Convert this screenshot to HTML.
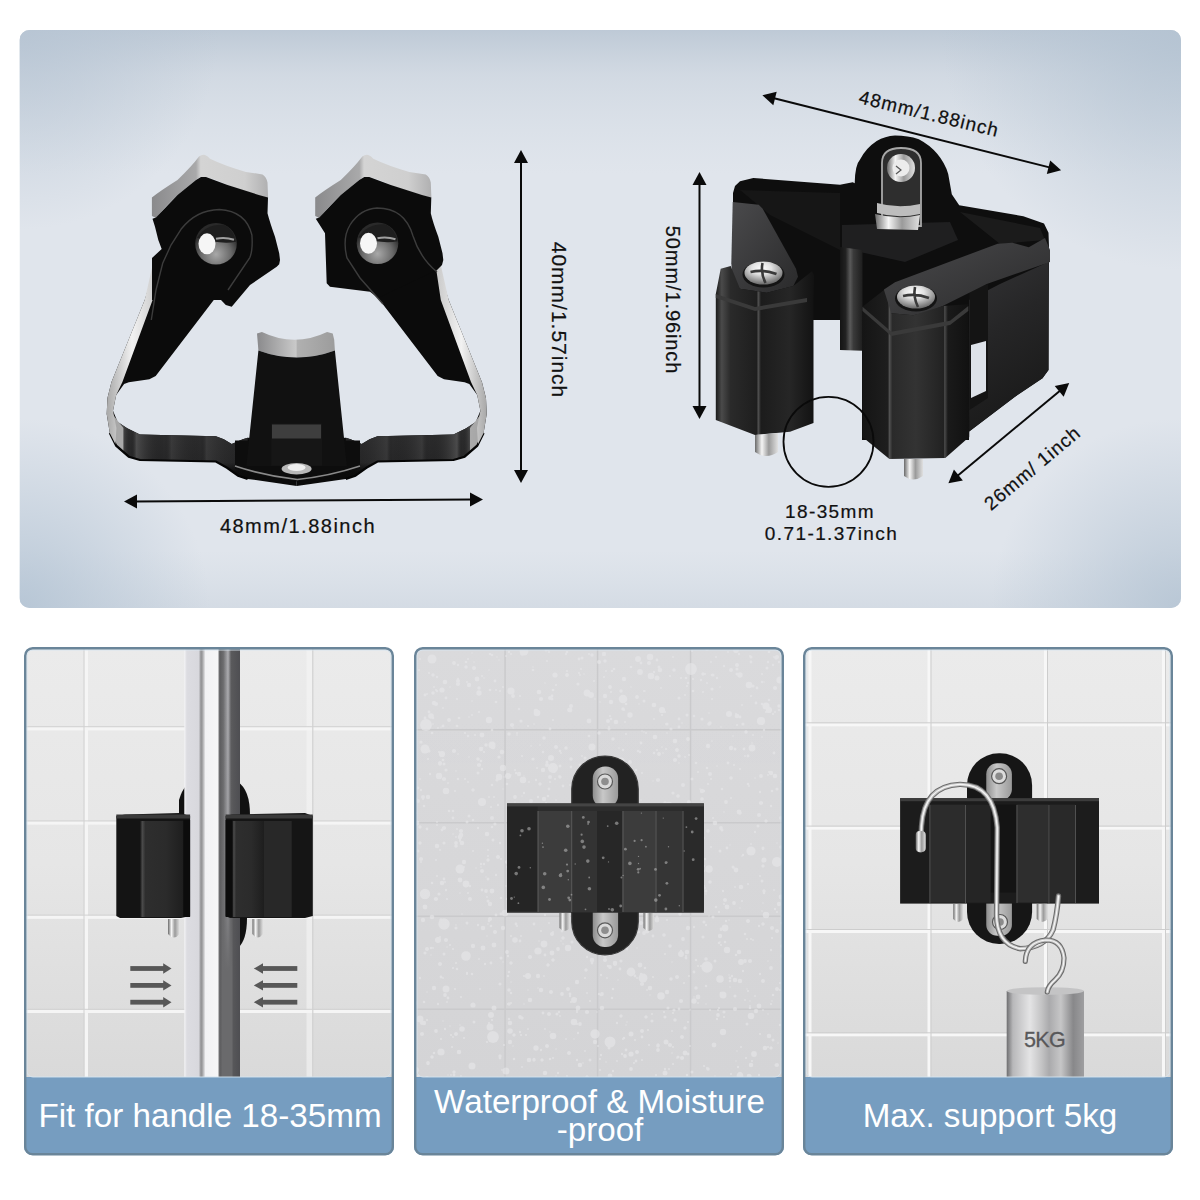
<!DOCTYPE html>
<html><head><meta charset="utf-8">
<style>
html,body{margin:0;padding:0;background:#fff;}
svg{display:block;}
text{font-family:"Liberation Sans",sans-serif;}
</style></head>
<body>
<svg width="1200" height="1200" viewBox="0 0 1200 1200">
<defs>
  <radialGradient id="topbg" cx="600" cy="330" r="640" gradientUnits="userSpaceOnUse" gradientTransform="translate(600 330) scale(1 0.62) translate(-600 -330)">
    <stop offset="0" stop-color="#e4e8ef"/>
    <stop offset="0.55" stop-color="#dde3ea"/>
    <stop offset="1" stop-color="#bccad7"/>
  </radialGradient>
  <linearGradient id="bgtop" gradientUnits="userSpaceOnUse" x1="0" y1="30" x2="0" y2="608">
    <stop offset="0" stop-color="#bcc8d5" stop-opacity="0.95"/>
    <stop offset="0.08" stop-color="#c6d0db" stop-opacity="0.55"/>
    <stop offset="0.25" stop-color="#d0d9e2" stop-opacity="0"/>
    <stop offset="0.9" stop-color="#d0d9e2" stop-opacity="0"/>
    <stop offset="1" stop-color="#ccd5df" stop-opacity="0.6"/>
  </linearGradient>
  <linearGradient id="bgside" gradientUnits="userSpaceOnUse" x1="19.5" y1="0" x2="1181" y2="0">
    <stop offset="0" stop-color="#c2cedb" stop-opacity="0.7"/>
    <stop offset="0.05" stop-color="#c2cedb" stop-opacity="0"/>
    <stop offset="0.88" stop-color="#c2cedb" stop-opacity="0"/>
    <stop offset="1" stop-color="#bccad7" stop-opacity="0.8"/>
  </linearGradient>
  <radialGradient id="cTL" gradientUnits="userSpaceOnUse" cx="19.5" cy="30" r="200">
    <stop offset="0" stop-color="#b6c4d3" stop-opacity="0.8"/>
    <stop offset="1" stop-color="#b6c4d3" stop-opacity="0"/>
  </radialGradient>
  <radialGradient id="cTR" gradientUnits="userSpaceOnUse" cx="1181" cy="30" r="240">
    <stop offset="0" stop-color="#b4c3d2" stop-opacity="0.9"/>
    <stop offset="1" stop-color="#b4c3d2" stop-opacity="0"/>
  </radialGradient>
  <radialGradient id="cBL" gradientUnits="userSpaceOnUse" cx="19.5" cy="608" r="190">
    <stop offset="0" stop-color="#b4c4d4" stop-opacity="0.9"/>
    <stop offset="1" stop-color="#b4c4d4" stop-opacity="0"/>
  </radialGradient>
  <radialGradient id="cBR" gradientUnits="userSpaceOnUse" cx="1181" cy="608" r="190">
    <stop offset="0" stop-color="#b6c5d4" stop-opacity="0.9"/>
    <stop offset="1" stop-color="#b6c5d4" stop-opacity="0"/>
  </radialGradient>
  <linearGradient id="pole" x1="0" x2="1" y1="0" y2="0">
    <stop offset="0" stop-color="#f4f4f6"/>
    <stop offset="0.045" stop-color="#dcdce1"/>
    <stop offset="0.26" stop-color="#d8d8dd"/>
    <stop offset="0.3" stop-color="#8e8e90"/>
    <stop offset="0.33" stop-color="#a8a8aa"/>
    <stop offset="0.38" stop-color="#f2f2f4"/>
    <stop offset="0.6" stop-color="#f6f6f7"/>
    <stop offset="0.635" stop-color="#5c5c5e"/>
    <stop offset="0.7" stop-color="#6c6c6e"/>
    <stop offset="0.785" stop-color="#aeaeb2"/>
    <stop offset="0.84" stop-color="#5a5a5c"/>
    <stop offset="1" stop-color="#4e4e52"/>
  </linearGradient>
  <linearGradient id="weight" x1="0" x2="1" y1="0" y2="0">
    <stop offset="0" stop-color="#6e6e70"/>
    <stop offset="0.08" stop-color="#b8b8ba"/>
    <stop offset="0.3" stop-color="#e4e4e5"/>
    <stop offset="0.45" stop-color="#c4c4c5"/>
    <stop offset="0.55" stop-color="#aaaaac"/>
    <stop offset="0.7" stop-color="#c6c6c7"/>
    <stop offset="0.86" stop-color="#88888a"/>
    <stop offset="1" stop-color="#9e9ea0"/>
  </linearGradient>
  <linearGradient id="poleshade" x1="0" x2="0" y1="0" y2="1">
    <stop offset="0" stop-color="#b0b0b2" stop-opacity="0"/>
    <stop offset="0.5" stop-color="#7a7a7c" stop-opacity="0.5"/>
    <stop offset="1" stop-color="#5e5e60" stop-opacity="0.85"/>
  </linearGradient>
  <linearGradient id="polefade" x1="0" x2="0" y1="0" y2="1">
    <stop offset="0" stop-color="#6a6a6c" stop-opacity="0"/>
    <stop offset="0.45" stop-color="#6a6a6c" stop-opacity="0.2"/>
    <stop offset="0.75" stop-color="#6a6a6c" stop-opacity="1"/>
    <stop offset="1" stop-color="#6a6a6c" stop-opacity="1"/>
  </linearGradient>
  <linearGradient id="clampface" x1="0" x2="1" y1="0" y2="0">
    <stop offset="0" stop-color="#1f1f1f"/>
    <stop offset="0.05" stop-color="#4a4a4a"/>
    <stop offset="0.12" stop-color="#2e2e2e"/>
    <stop offset="0.6" stop-color="#2b2b2b"/>
    <stop offset="1" stop-color="#1e1e1e"/>
  </linearGradient>
  <linearGradient id="strip" x1="0" x2="1" y1="0" y2="0">
    <stop offset="0" stop-color="#8e8e8e"/>
    <stop offset="0.4" stop-color="#c8c8c8"/>
    <stop offset="1" stop-color="#9a9a9a"/>
  </linearGradient>
  <linearGradient id="tileA" x1="0" x2="0" y1="0" y2="1">
    <stop offset="0" stop-color="#ebebeb"/>
    <stop offset="0.5" stop-color="#e6e6e6"/>
    <stop offset="1" stop-color="#d9d9d9"/>
  </linearGradient>
  <linearGradient id="tileB" x1="0" x2="0" y1="0" y2="1">
    <stop offset="0" stop-color="#dadadc"/>
    <stop offset="1" stop-color="#d4d4d6"/>
  </linearGradient>
  <clipPath id="cp1"><rect x="25" y="648" width="367" height="506" rx="7"/></clipPath>
  <clipPath id="cp2"><rect x="415" y="648" width="368" height="506" rx="7"/></clipPath>
  <clipPath id="cp3"><rect x="804" y="648" width="368" height="506" rx="7"/></clipPath>
</defs>

<!-- TOP PANEL -->
<clipPath id="cptop"><rect x="19.5" y="30" width="1161.5" height="578" rx="10"/></clipPath>
<g clip-path="url(#cptop)">
  <rect x="19.5" y="30" width="1161.5" height="578" fill="#e0e5ec"/>
  <rect x="19.5" y="30" width="1161.5" height="578" fill="url(#bgtop)"/>
  <rect x="19.5" y="30" width="1161.5" height="578" fill="url(#cTL)"/>
  <rect x="19.5" y="30" width="1161.5" height="578" fill="url(#cTR)"/>
  <rect x="19.5" y="30" width="1161.5" height="578" fill="url(#cBL)"/>
  <rect x="19.5" y="30" width="1161.5" height="578" fill="url(#cBR)"/>
</g>

<g id="leftprod">
  <defs>
    <linearGradient id="capgrey" x1="0" x2="1" y1="0" y2="0">
      <stop offset="0" stop-color="#8a8a8c"/>
      <stop offset="0.38" stop-color="#a9a9aa"/>
      <stop offset="0.42" stop-color="#d4d4d4"/>
      <stop offset="0.8" stop-color="#cfcfcf"/>
      <stop offset="1" stop-color="#b0b0b1"/>
    </linearGradient>
    <linearGradient id="postgrey" x1="0" x2="1" y1="0" y2="0">
      <stop offset="0" stop-color="#8a8a8c"/>
      <stop offset="0.5" stop-color="#c9c9c9"/>
      <stop offset="0.52" stop-color="#b0b0b0"/>
      <stop offset="1" stop-color="#9c9c9c"/>
    </linearGradient>
    <linearGradient id="band" x1="0" x2="0" y1="0" y2="1">
      <stop offset="0" stop-color="#505052"/>
      <stop offset="0.15" stop-color="#2e2e2f"/>
      <stop offset="0.75" stop-color="#262627"/>
      <stop offset="0.88" stop-color="#0c0c0c"/>
      <stop offset="1" stop-color="#0a0a0a"/>
    </linearGradient>
    <linearGradient id="bandstreak" gradientUnits="userSpaceOnUse" x1="345" x2="485" y1="0" y2="0">
      <stop offset="0" stop-color="#000" stop-opacity="0"/>
      <stop offset="0.3" stop-color="#666" stop-opacity="0.25"/>
      <stop offset="0.34" stop-color="#000" stop-opacity="0"/>
      <stop offset="0.55" stop-color="#777" stop-opacity="0.2"/>
      <stop offset="0.6" stop-color="#000" stop-opacity="0"/>
      <stop offset="0.8" stop-color="#888" stop-opacity="0.35"/>
      <stop offset="0.84" stop-color="#000" stop-opacity="0"/>
      <stop offset="0.9" stop-color="#aaa" stop-opacity="0.3"/>
      <stop offset="1" stop-color="#000" stop-opacity="0"/>
    </linearGradient>
    <linearGradient id="silv" x1="0" x2="1" y1="0" y2="0">
      <stop offset="0" stop-color="#c8c8c8"/>
      <stop offset="0.5" stop-color="#f2f2f2"/>
      <stop offset="1" stop-color="#a8a8a8"/>
    </linearGradient>
    <radialGradient id="scrbase" cx="0.5" cy="0.75" r="0.6">
      <stop offset="0" stop-color="#a8a8a8"/>
      <stop offset="0.6" stop-color="#6a6a6a"/>
      <stop offset="1" stop-color="#2a2a2a"/>
    </radialGradient>
    <radialGradient id="screw" cx="0.35" cy="0.42" r="0.65">
      <stop offset="0" stop-color="#ffffff"/>
      <stop offset="0.28" stop-color="#f0f0f0"/>
      <stop offset="0.4" stop-color="#7a7a7a"/>
      <stop offset="0.75" stop-color="#9a9a9a"/>
      <stop offset="1" stop-color="#3a3a3a"/>
    </radialGradient>
    <g id="halfband">
      <path d="M372 290 L437 262 L448.7 300 L482 382.3 L486 398.2 L486.7 414 L483.6 433 L477.2 445.7 L464.6 456.7 L453.5 460 L377.5 461.5 L366.4 467.8 L355.3 475.7 L345.8 478.9 L296.7 486 L296.7 440 L345.8 437.7 L350.6 439.3 L361.7 444 L369.6 439.3 L377.5 436.2 L453.5 434.6 L466.2 428.2 L475.7 421.9 L480.4 410.8 L477.2 395 L469.3 383.9 L464.6 382.3 L444 379.2 L437.7 376 Z" fill="#0b0b0b"/>
      <path d="M345.8 437.7 L350.6 439.3 L361.7 444 L369.6 439.3 L377.5 436.2 L453.5 434.6 L466.2 428.2 L475.7 421.9 L481 414 L483.6 433 L477.2 445.7 L464.6 456.7 L453.5 460 L377.5 461.5 L366.4 467.8 L355.3 475.7 L345.8 478.9 Z" fill="url(#band)"/>
      <path d="M345.8 437.7 L350.6 439.3 L361.7 444 L369.6 439.3 L377.5 436.2 L453.5 434.6 L466.2 428.2 L475.7 421.9 L481 414 L483.6 433 L477.2 445.7 L464.6 456.7 L453.5 460 L377.5 461.5 L366.4 467.8 L355.3 475.7 L345.8 478.9 Z" fill="url(#bandstreak)"/>
      <path d="M470 428 L481 414 L483.6 433 L477.2 445.7 L470 451 Z" fill="#b4b4b4" opacity="0.9"/>
      <path d="M345.8 478.9 L355.3 475.7 L366.4 467.8 L377.5 461.5 L453.5 460 L464.6 456.7 L477.2 445.7 L483.6 433" fill="none" stroke="#050505" stroke-width="2.2"/>
      <path d="M436 268 L441 266 L448.7 300 L482 382.3 L486 398.2 L486.7 414 L483.6 433 L478 444 L477 428 L480.4 410.8 L477.2 395 L471 382 L440.8 300 Z" fill="url(#silv)"/>
    </g>
  </defs>
  <use href="#halfband"/>
  <use href="#halfband" transform="translate(593.4 0) scale(-1 1)"/>
  <!-- left cap grey top -->
  <path id="capg" d="M151.9 216 L151.9 197.5 Q160 191 177.5 180 Q192 166 199 156.5 Q202 154.3 205 155 Q208 156 210 158.75 Q225 166 246 171.9 L262.5 174.4 Q266.5 177 267.5 182.5 L268.1 198 Q240 190 227.5 185 Q212 178 206 177 L201 177 Q198 178 196 180 Q185 189 177.5 195 Q165 207 156 218 Z" fill="url(#capgrey)"/>
  <!-- left cap black -->
  <path d="M152.5 218.75 L156 217.5 Q168 205 177.5 195 L196 180 L201 177 L206 177 L227.5 185 L258.75 195 L268 197.5 L267.5 213.3 Q270 223 275 236.7 L279.2 253.3 L280 260 L279.2 264.2 L276.7 266.7 L250 285 L231.7 306.7 L225.8 305 L221 300 L152 300 L152 258 L161.7 249 L158.3 240 L155 226.7 Z" fill="#0b0b0b"/>
  <!-- right cap grey top -->
  <use href="#capg" transform="translate(163.3 0)"/>
  <!-- right cap black -->
  <path d="M315.8 218.75 L319.3 217.5 Q331 205 340.8 195 L359.3 180 L364.3 177 L369.3 177 L390.8 185 L422 195 L431.3 197.5 L430.8 213.3 Q433 223 438.3 236.7 L442.5 253.3 L443.3 260 L442 265 L437 270 L378 298 L370 291.7 L330 286.7 L326.7 283.3 L325.8 256.7 L325 233.3 Z" fill="#0b0b0b"/>
  <!-- arm-end rings -->
  <path d="M151.3 320 L156 290 L162.7 263.3 L171 245 L181 229.3 Q196 210 219.3 209.5 Q246 211 251.9 235 Q253 250 249.8 257.6 L228 290" fill="none" stroke="#3c3c3c" stroke-width="1.4"/>
  <path d="M383 304 L360 278 L347 258 Q342 238 350 225 Q360 209 377 208 Q405 208 413 236 Q420 258 437 272" fill="none" stroke="#3c3c3c" stroke-width="1.4"/>
  <!-- screws -->
  <g id="scr" transform="translate(216 243.8)">
    <circle r="20.8" fill="url(#scrbase)"/>
    <path d="M-19 -6 Q-10 -20 8 -19 Q18 -14 20 -2 Q5 1 -19 -6 Z" fill="#1e1e1e"/>
    <path d="M0 -5 Q9 -7 18 -4" fill="none" stroke="#a0a0a0" stroke-width="2.2"/>
    <ellipse cx="-9" cy="0" rx="8.5" ry="10.5" fill="#f6f6f6"/>
  </g>
  <use href="#scr" transform="translate(161.5 -0.5)"/>
  <!-- center post -->
  <path d="M235 440.4 L360 440.4 L360 468.7 Q330 478 297.3 481.5 Q265 478 235 468.7 Z" fill="#0d0d0d"/>
  <path d="M235 466 Q265 476 297.3 479.5 Q330 476 360 466" fill="none" stroke="#8a8a8a" stroke-width="1.5"/>
  <path d="M257 333.5 L261.9 332 Q294.5 347.6 327.1 332 L332.7 333.5 L334.2 339.8 L334.9 350.5 Q296.6 364.5 258.4 350.5 Z" fill="url(#postgrey)"/>
  <path d="M258.4 350.5 Q296.6 364.5 334.9 350.5 L346.9 465.9 L246.3 465.9 Z" fill="#111111"/>
  <rect x="271.1" y="423.4" width="51" height="42.5" fill="#161616"/>
  <rect x="272" y="424.5" width="49" height="14" fill="#3e3e3e"/>
  <ellipse cx="296.6" cy="468.7" rx="15" ry="5.7" fill="#b8b8b8"/>
  <ellipse cx="296.6" cy="467.5" rx="9" ry="3.5" fill="#eeeeee"/>
</g>
<g id="rightprod">
  <defs>
    <radialGradient id="domeg" cx="0.45" cy="0.3" r="0.75">
      <stop offset="0" stop-color="#ffffff"/>
      <stop offset="0.35" stop-color="#e2e2e2"/>
      <stop offset="0.7" stop-color="#9a9a9a"/>
      <stop offset="1" stop-color="#5a5a5a"/>
    </radialGradient>
    <linearGradient id="postg" x1="0" x2="1" y1="0" y2="0">
      <stop offset="0" stop-color="#141414"/>
      <stop offset="0.25" stop-color="#222"/>
      <stop offset="0.45" stop-color="#5a5a5a"/>
      <stop offset="0.6" stop-color="#3a3a3a"/>
      <stop offset="1" stop-color="#1e1e1e"/>
    </linearGradient>
    <g id="dscrew">
      <ellipse rx="21" ry="13" cy="1.5" fill="#141414"/>
      <ellipse rx="19" ry="11.5" fill="url(#domeg)"/>
      <path d="M-13 -1 Q0 -4 13 1 M-1 -10 Q-3 0 2 10" fill="none" stroke="#3a3a3a" stroke-width="2.6"/>
    </g>
    <linearGradient id="rbandg" x1="0" x2="0.3" y1="0" y2="1">
      <stop offset="0" stop-color="#333335"/>
      <stop offset="0.45" stop-color="#262627"/>
      <stop offset="1" stop-color="#1a1a1a"/>
    </linearGradient>
    <linearGradient id="armg" x1="0" x2="1" y1="0" y2="1">
      <stop offset="0" stop-color="#4a4a4c"/>
      <stop offset="1" stop-color="#2a2a2b"/>
    </linearGradient>
    <linearGradient id="podL" x1="0" x2="1" y1="0" y2="0">
      <stop offset="0" stop-color="#1a1a1a"/>
      <stop offset="0.06" stop-color="#4a4a4a"/>
      <stop offset="0.15" stop-color="#2a2a2a"/>
      <stop offset="0.42" stop-color="#1e1e1e"/>
      <stop offset="0.43" stop-color="#555"/>
      <stop offset="0.46" stop-color="#1c1c1c"/>
      <stop offset="0.75" stop-color="#262626"/>
      <stop offset="1" stop-color="#121212"/>
    </linearGradient>
    <linearGradient id="podR" x1="0" x2="1" y1="0" y2="0">
      <stop offset="0" stop-color="#151515"/>
      <stop offset="0.24" stop-color="#1e1e1e"/>
      <stop offset="0.25" stop-color="#555"/>
      <stop offset="0.28" stop-color="#2a2a2a"/>
      <stop offset="0.5" stop-color="#333"/>
      <stop offset="0.76" stop-color="#222"/>
      <stop offset="0.77" stop-color="#4a4a4a"/>
      <stop offset="0.8" stop-color="#1a1a1a"/>
      <stop offset="1" stop-color="#111"/>
    </linearGradient>
    <linearGradient id="chrome" x1="0" x2="1" y1="0" y2="0">
      <stop offset="0" stop-color="#6a6a6a"/>
      <stop offset="0.3" stop-color="#f5f5f5"/>
      <stop offset="0.6" stop-color="#9a9a9a"/>
      <stop offset="1" stop-color="#e0e0e0"/>
    </linearGradient>
  </defs>
  <!-- back band + arch -->
  <path d="M733 193 L735 186 L740 181.3 L753.3 178 L840 184.7 L852.8 182.3 L854.7 183.2 Q855 165 860.2 159.3 Q866 148 876.7 141 Q885 136 895 135.5 Q908 135.5 918.8 139.2 Q930 145 937.2 153.8 Q945 163 948.2 174 L951.8 194.2 L959.2 205.2 L1023.3 216.2 L1044 223.5 L1048.5 232.7 L1049 247.3 L1048.5 370 L1042.5 378.3 L1015 396.7 L969.2 431.5 L969 440 L862 440 L862 350 L840 350 L840 320 L813 320 L813 300 L733 290 Z" fill="#0e0e0e"/>
  <!-- inner lighter surfaces -->
  <path d="M740 190 L840 193 L840 250 L770 215 Z" fill="#161616"/>
  <path d="M842 225 L950 222 L958 240 L905 262 L842 248 Z" fill="#1f1f20"/>
  <path d="M960 212 L1040 228 L1045 240 L1000 244 Z" fill="#1b1b1b"/>
  <!-- right band outer face -->
  <path d="M969 300 L1000 284 L1048.5 262 L1048.5 370 L1042.5 378.3 L1015 396.7 L969.2 431.5 Z" fill="url(#rbandg)"/>
  <!-- window -->
  <path d="M969.5 290 L988 284 L988 398 L969.5 410 Z" fill="#141414"/>
  <path d="M971 345 L986 341 L986 391 L971 398 Z" fill="#dde2e9"/>
  <!-- center post -->
  <path d="M840 247 L862.5 250 L862.5 350.8 L840 350 Z" fill="url(#postg)"/>
  <!-- silver bracket -->
  <path d="M882 226 L882 163 Q882 148 901 148 Q921 148 921 163 L921 226 Z" fill="#2e2e2e" stroke="#a8a8a8" stroke-width="1.8"/>
  <circle cx="901" cy="168" r="14" fill="url(#chrome)"/>
  <circle cx="901" cy="168" r="8.5" fill="#ececec"/>
  <path d="M896 166 L901 170 L896 174" fill="none" stroke="#555" stroke-width="1.2"/>
  <path d="M877 203 Q898 209 920 204 L920 214 Q898 219 877 213 Z" fill="#bdbdbd"/>
  <path d="M875 214 Q898 220 920 215 L918 230 L877 229 Z" fill="url(#chrome)"/>
  <!-- left arm -->
  <path d="M732.7 202 L758.7 204.7 L762.7 208.7 L796 268.7 L798 276.7 L793.3 286 L766.7 292.7 L740 288.7 L732.7 282 L731.3 263.3 Z" fill="url(#armg)"/>
  <!-- left pod -->
  <path d="M715.8 294 L720.7 268.7 L730.7 266 L740 288.7 L766.7 292.7 L793.3 286 L812 271.3 L814 275.3 L813.5 298 L813.5 423 L790 431.7 L755 435 L715.8 420 Z" fill="url(#podL)"/>
  <path d="M715.8 294 L755 307 L807 298 L807 302 L755 311 L715.8 298 Z" fill="#3a3a3a"/>
  <use href="#dscrew" transform="translate(763.5 273)"/>
  <path d="M755 435 L778 433 L778 452 Q766 460 755 452 Z" fill="url(#chrome)"/>
  <!-- right arm -->
  <path d="M884 289.5 L895 282.2 L997.7 243.7 L1012.3 242.7 L1028.8 247.3 L1045 238 L1050 250 L1050 262 L986.7 284 L942.7 306 L929.8 311.5 L913.3 315.2 L891.3 313.3 L883 304.2 Z" fill="url(#armg)"/>
  <!-- right pod -->
  <path d="M862.5 306.8 L884 290 L891.3 313.3 L913.3 315.2 L942.7 306 L968.3 304.2 L969.2 437 L945.3 458 L889.4 459 L862.5 437 Z" fill="url(#podR)"/>
  <path d="M862.5 306.8 L891.3 331.7 L950 320.7 L968.3 306 L968.3 311 L950 325 L891.3 336 L862.5 311 Z" fill="#3a3a3a"/>
  <use href="#dscrew" transform="translate(916 297)"/>
  <path d="M904 459 L923 459 L923 476 Q913 483 904 476 Z" fill="url(#chrome)"/>
</g>

<!-- dimension arrows left -->
<g fill="#0a0a0a" stroke="#0a0a0a">
  <line x1="134" y1="501.5" x2="473" y2="499.5" stroke-width="2"/>
  <path d="M124 501.6 L137 494.6 L137 508.6 Z" stroke="none"/>
  <path d="M483 499.4 L470 492.4 L470 506.4 Z" stroke="none"/>
  <line x1="521" y1="160" x2="521" y2="472" stroke-width="2"/>
  <path d="M521 150 L514 163 L528 163 Z" stroke="none"/>
  <path d="M521 483 L514 470 L528 470 Z" stroke="none"/>
</g>
<text x="298" y="533" font-size="20" letter-spacing="1.5" text-anchor="middle" fill="#111" stroke="#111" stroke-width="0.22">48mm/1.88inch</text>
<text transform="translate(551.5 320) rotate(90)" font-size="21" letter-spacing="1" text-anchor="middle" fill="#111" stroke="#111" stroke-width="0.22">40mm/1.57inch</text>

<!-- dimension arrows right -->
<g fill="#0a0a0a" stroke="#0a0a0a">
  <line x1="699.5" y1="182" x2="699.5" y2="409" stroke-width="2"/>
  <path d="M699.5 172 L692.5 185 L706.5 185 Z" stroke="none"/>
  <path d="M699.5 419 L692.5 406 L706.5 406 Z" stroke="none"/>
</g>
<g transform="translate(762.4 95.3) rotate(14.1)">
  <line x1="10" y1="0" x2="298" y2="0" stroke="#0a0a0a" stroke-width="2"/>
  <path d="M0 0 L13 -7 L13 7 Z" fill="#0a0a0a"/>
  <path d="M308 0 L295 -7 L295 7 Z" fill="#0a0a0a"/>
</g>
<text transform="translate(927.5 120) rotate(13.8)" font-size="19" letter-spacing="1.05" text-anchor="middle" fill="#111" stroke="#111" stroke-width="0.22">48mm/1.88inch</text>
<text transform="translate(666 300) rotate(90)" font-size="20" letter-spacing="0.9" text-anchor="middle" fill="#111" stroke="#111" stroke-width="0.22">50mm/1.96inch</text>
<g transform="translate(948.4 483.3) rotate(-39.7)">
  <line x1="10" y1="0" x2="147" y2="0" stroke="#0a0a0a" stroke-width="2"/>
  <path d="M0 0 L13 -7 L13 7 Z" fill="#0a0a0a"/>
  <path d="M157 0 L144 -7 L144 7 Z" fill="#0a0a0a"/>
</g>
<text transform="translate(1036.5 473) rotate(-40)" font-size="19" letter-spacing="0.9" text-anchor="middle" fill="#111" stroke="#111" stroke-width="0.22">26mm/ 1inch</text>
<circle cx="828.5" cy="441.8" r="45" fill="none" stroke="#0a0a0a" stroke-width="1.8"/>
<text x="830" y="518.3" font-size="19" letter-spacing="1.4" text-anchor="middle" fill="#111" stroke="#111" stroke-width="0.22">18-35mm</text>
<text x="831.5" y="539.7" font-size="19" letter-spacing="1.4" text-anchor="middle" fill="#111" stroke="#111" stroke-width="0.22">0.71-1.37inch</text>

<!-- BOTTOM PANELS -->
<g id="p1" clip-path="url(#cp1)">
  <rect x="24" y="647" width="370" height="432" fill="url(#tileA)"/>
  <g fill="#f5f5f5">
    <rect x="84.5" y="647" width="3.5" height="432"/>
    <rect x="198" y="647" width="3.5" height="432"/>
    <rect x="306.5" y="647" width="5.5" height="432" opacity="0.6"/>
    <rect x="24" y="727.2" width="370" height="3.2"/>
    <rect x="24" y="821.4" width="370" height="3.2"/>
    <rect x="24" y="915.6" width="370" height="3.2"/>
    <rect x="24" y="1009.8" width="370" height="3.2"/>
  </g>
  <g fill="#d2d2d2">
    <rect x="83.5" y="647" width="1" height="432"/>
    <rect x="312.2" y="647" width="1.2" height="432"/>
    <rect x="24" y="726.2" width="370" height="1"/>
    <rect x="24" y="820.4" width="370" height="1"/>
    <rect x="24" y="914.6" width="370" height="1"/>
    <rect x="24" y="1008.8" width="370" height="1"/>
  </g>
  <!-- back plates behind pole -->
  <path d="M179 800 Q182 790 186 786 L186 830 L179 830 Z" fill="#111"/>
  <path d="M238 782 Q250 790 250 815 L238 815 Z" fill="#111"/>
  <path d="M238 918 L247 918 Q247 940 238 948 Z" fill="#111"/>
  <!-- pole -->
  <rect x="184.3" y="647" width="55.7" height="432" fill="url(#pole)"/>
  <rect x="222" y="647" width="10.5" height="432" fill="url(#polefade)"/>
  <!-- left clamp -->
  <path d="M116.3 816 L125 814.5 L180 813 L190.1 816 L190.1 916 L181 918 L120 918 L116.3 916 Z" fill="#141414"/>
  <rect x="140.3" y="821" width="43" height="96" fill="url(#clampface)"/>
  <rect x="116.3" y="814.5" width="73.8" height="4" fill="#3a3a3a"/>
  <rect x="183.4" y="820" width="6.7" height="97" fill="#0c0c0c"/>
  <path d="M168 919 L179.5 919 L179.5 934 Q174 941 168 934 Z" fill="url(#chrome)"/>
  <!-- right clamp -->
  <path d="M225.6 816 L232 814.5 L305 813 L312.8 816 L312.8 916 L305 918 L230 918 L225.6 916 Z" fill="#151515"/>
  <rect x="232.3" y="821" width="31.6" height="96" fill="url(#clampface)"/>
  <rect x="263.9" y="821" width="27.8" height="96" fill="#282828"/>
  <rect x="225.6" y="814.5" width="87.2" height="4" fill="#3a3a3a"/>
  <rect x="225.6" y="820" width="6.7" height="97" fill="#0c0c0c"/>
  <path d="M252.4 919 L263 919 L263 934 Q257.7 941 252.4 934 Z" fill="url(#chrome)"/>
  <!-- arrows -->
  <g fill="#575757">
    <rect x="130.3" y="966.1" width="34" height="4.8"/><path d="M163.2 963.3 L171.5 968.5 L163.2 973.7 Z"/>
    <rect x="130.3" y="983" width="34" height="4.8"/><path d="M163.2 980.2 L171.5 985.4 L163.2 990.6 Z"/>
    <rect x="130.3" y="999.8" width="34" height="4.8"/><path d="M163.2 997 L171.5 1002.2 L163.2 1007.4 Z"/>
    <rect x="262" y="966.1" width="35.3" height="4.8"/><path d="M263 963.3 L253.8 968.5 L263 973.7 Z"/>
    <rect x="262" y="983" width="35.3" height="4.8"/><path d="M263 980.2 L253.8 985.4 L263 990.6 Z"/>
    <rect x="262" y="999.8" width="35.3" height="4.8"/><path d="M263 997 L253.8 1002.2 L263 1007.4 Z"/>
  </g>
</g>
<g id="p2" clip-path="url(#cp2)">
  <rect x="414" y="647" width="370" height="432" fill="url(#tileB)"/>
  <g fill="#cacacc">
    <rect x="504.3" y="647" width="1.5" height="432"/>
    <rect x="596.8" y="647" width="1.5" height="432"/>
    <rect x="689.8" y="647" width="1.5" height="432"/>
    <rect x="414" y="729" width="370" height="1.5"/>
    <rect x="414" y="822" width="370" height="1.5"/>
    <rect x="414" y="915.5" width="370" height="1.5"/>
    <rect x="414" y="1008.5" width="370" height="1.5"/>
  </g>
  <g fill="#e8e8ea" opacity="0.6"><circle cx="581" cy="889" r="3.0"/><circle cx="602" cy="901" r="1.1"/><circle cx="647" cy="990" r="0.9"/><circle cx="448" cy="998" r="1.4"/><circle cx="777" cy="1065" r="2.0"/><circle cx="472" cy="653" r="0.7"/><circle cx="484" cy="752" r="1.0"/><circle cx="577" cy="1012" r="1.1"/><circle cx="599" cy="934" r="0.9"/><circle cx="783" cy="1078" r="2.1"/><circle cx="531" cy="746" r="0.7"/><circle cx="698" cy="820" r="1.8"/><circle cx="768" cy="1014" r="0.8"/><circle cx="751" cy="851" r="4.6"/><circle cx="441" cy="920" r="1.7"/><circle cx="446" cy="791" r="3.3"/><circle cx="458" cy="754" r="0.7"/><circle cx="709" cy="724" r="1.8"/><circle cx="485" cy="964" r="1.2"/><circle cx="457" cy="829" r="0.9"/><circle cx="773" cy="995" r="1.3"/><circle cx="492" cy="818" r="2.0"/><circle cx="451" cy="1075" r="0.9"/><circle cx="700" cy="789" r="0.8"/><circle cx="447" cy="899" r="1.1"/><circle cx="552" cy="843" r="3.0"/><circle cx="627" cy="1022" r="0.8"/><circle cx="750" cy="1001" r="0.8"/><circle cx="688" cy="1054" r="1.4"/><circle cx="740" cy="908" r="0.8"/><circle cx="428" cy="1064" r="1.2"/><circle cx="509" cy="1004" r="1.7"/><circle cx="479" cy="959" r="0.9"/><circle cx="621" cy="1016" r="1.7"/><circle cx="753" cy="735" r="0.9"/><circle cx="579" cy="673" r="1.0"/><circle cx="626" cy="704" r="1.3"/><circle cx="777" cy="931" r="2.0"/><circle cx="466" cy="662" r="1.3"/><circle cx="673" cy="1064" r="1.1"/><circle cx="592" cy="963" r="1.4"/><circle cx="442" cy="883" r="2.3"/><circle cx="687" cy="952" r="2.3"/><circle cx="544" cy="944" r="3.4"/><circle cx="568" cy="989" r="2.0"/><circle cx="645" cy="813" r="2.0"/><circle cx="444" cy="924" r="5.7"/><circle cx="683" cy="815" r="2.0"/><circle cx="577" cy="1010" r="1.2"/><circle cx="425" cy="907" r="0.9"/><circle cx="672" cy="862" r="2.3"/><circle cx="509" cy="652" r="1.2"/><circle cx="489" cy="720" r="3.2"/><circle cx="578" cy="1033" r="1.2"/><circle cx="487" cy="834" r="2.3"/><circle cx="740" cy="813" r="1.7"/><circle cx="464" cy="862" r="2.2"/><circle cx="677" cy="1058" r="0.8"/><circle cx="581" cy="766" r="1.0"/><circle cx="646" cy="861" r="1.3"/><circle cx="777" cy="843" r="0.7"/><circle cx="737" cy="665" r="2.0"/><circle cx="528" cy="990" r="0.8"/><circle cx="582" cy="658" r="1.6"/><circle cx="466" cy="667" r="1.8"/><circle cx="647" cy="931" r="2.4"/><circle cx="667" cy="733" r="0.8"/><circle cx="418" cy="851" r="1.6"/><circle cx="515" cy="797" r="1.9"/><circle cx="641" cy="974" r="1.3"/><circle cx="749" cy="685" r="3.3"/><circle cx="462" cy="843" r="2.3"/><circle cx="553" cy="893" r="2.2"/><circle cx="763" cy="848" r="1.6"/><circle cx="681" cy="1001" r="2.1"/><circle cx="493" cy="1037" r="5.9"/><circle cx="613" cy="989" r="1.3"/><circle cx="731" cy="798" r="1.0"/><circle cx="618" cy="980" r="0.7"/><circle cx="713" cy="675" r="1.6"/><circle cx="538" cy="988" r="0.8"/><circle cx="605" cy="960" r="2.1"/><circle cx="764" cy="860" r="2.5"/><circle cx="496" cy="875" r="1.2"/><circle cx="650" cy="873" r="2.0"/><circle cx="529" cy="812" r="2.3"/><circle cx="491" cy="1015" r="3.0"/><circle cx="626" cy="734" r="1.1"/><circle cx="638" cy="659" r="3.0"/><circle cx="562" cy="994" r="1.9"/><circle cx="670" cy="676" r="1.0"/><circle cx="768" cy="1047" r="1.0"/><circle cx="461" cy="835" r="2.3"/><circle cx="590" cy="784" r="1.1"/><circle cx="756" cy="703" r="1.4"/><circle cx="486" cy="745" r="1.7"/><circle cx="545" cy="915" r="1.2"/><circle cx="459" cy="868" r="0.8"/><circle cx="610" cy="836" r="1.0"/><circle cx="610" cy="716" r="1.1"/><circle cx="650" cy="876" r="2.0"/><circle cx="731" cy="748" r="2.2"/><circle cx="748" cy="784" r="1.3"/><circle cx="495" cy="1079" r="1.5"/><circle cx="503" cy="962" r="0.8"/><circle cx="722" cy="830" r="1.5"/><circle cx="563" cy="944" r="0.8"/><circle cx="666" cy="1042" r="2.5"/><circle cx="601" cy="975" r="1.2"/><circle cx="484" cy="678" r="0.7"/><circle cx="618" cy="870" r="1.5"/><circle cx="482" cy="735" r="2.4"/><circle cx="757" cy="688" r="1.4"/><circle cx="585" cy="978" r="1.0"/><circle cx="605" cy="833" r="1.4"/><circle cx="673" cy="1013" r="1.0"/><circle cx="688" cy="822" r="0.8"/><circle cx="604" cy="654" r="2.2"/><circle cx="675" cy="1020" r="1.8"/><circle cx="636" cy="865" r="5.5"/><circle cx="510" cy="1042" r="2.2"/><circle cx="715" cy="823" r="2.3"/><circle cx="671" cy="979" r="1.8"/><circle cx="681" cy="678" r="1.0"/><circle cx="418" cy="801" r="2.0"/><circle cx="500" cy="1056" r="1.7"/><circle cx="658" cy="894" r="1.0"/><circle cx="784" cy="925" r="2.2"/><circle cx="777" cy="657" r="2.1"/><circle cx="509" cy="821" r="0.8"/><circle cx="553" cy="690" r="1.3"/><circle cx="618" cy="867" r="3.1"/><circle cx="782" cy="923" r="1.5"/><circle cx="635" cy="976" r="1.4"/><circle cx="473" cy="851" r="1.0"/><circle cx="640" cy="672" r="2.9"/><circle cx="609" cy="906" r="0.9"/><circle cx="656" cy="890" r="1.2"/><circle cx="524" cy="653" r="0.7"/><circle cx="472" cy="974" r="1.3"/><circle cx="691" cy="669" r="5.9"/><circle cx="441" cy="1039" r="1.0"/><circle cx="774" cy="753" r="1.4"/><circle cx="681" cy="850" r="3.4"/><circle cx="637" cy="697" r="1.9"/><circle cx="489" cy="670" r="0.8"/><circle cx="578" cy="936" r="0.9"/><circle cx="629" cy="829" r="1.9"/><circle cx="783" cy="1059" r="1.6"/><circle cx="456" cy="1034" r="2.0"/><circle cx="547" cy="765" r="2.0"/><circle cx="633" cy="921" r="1.6"/><circle cx="506" cy="1071" r="3.5"/><circle cx="429" cy="673" r="1.0"/><circle cx="645" cy="691" r="0.8"/><circle cx="446" cy="940" r="2.0"/><circle cx="552" cy="854" r="0.9"/><circle cx="690" cy="1010" r="0.8"/><circle cx="713" cy="917" r="1.6"/><circle cx="571" cy="759" r="1.8"/><circle cx="656" cy="1075" r="1.1"/><circle cx="690" cy="1046" r="1.0"/><circle cx="450" cy="1026" r="0.8"/><circle cx="623" cy="857" r="1.7"/><circle cx="701" cy="680" r="1.2"/><circle cx="444" cy="779" r="2.1"/><circle cx="519" cy="709" r="1.2"/><circle cx="550" cy="698" r="2.0"/><circle cx="754" cy="1054" r="2.9"/><circle cx="711" cy="779" r="1.0"/><circle cx="760" cy="1034" r="1.0"/><circle cx="549" cy="804" r="1.0"/><circle cx="486" cy="891" r="1.9"/><circle cx="723" cy="891" r="1.2"/><circle cx="740" cy="769" r="1.1"/><circle cx="615" cy="893" r="3.2"/><circle cx="712" cy="675" r="1.3"/><circle cx="445" cy="682" r="2.3"/><circle cx="445" cy="922" r="1.2"/><circle cx="654" cy="753" r="1.2"/><circle cx="607" cy="978" r="0.9"/><circle cx="772" cy="938" r="1.1"/><circle cx="681" cy="954" r="2.9"/><circle cx="720" cy="936" r="2.2"/><circle cx="723" cy="1032" r="3.2"/><circle cx="608" cy="954" r="1.8"/><circle cx="570" cy="710" r="2.4"/><circle cx="553" cy="720" r="1.0"/><circle cx="522" cy="1067" r="0.9"/><circle cx="456" cy="928" r="1.6"/><circle cx="437" cy="846" r="2.3"/><circle cx="427" cy="694" r="0.9"/><circle cx="501" cy="958" r="1.6"/><circle cx="482" cy="769" r="1.2"/><circle cx="529" cy="884" r="1.9"/><circle cx="510" cy="1031" r="2.8"/><circle cx="617" cy="1061" r="0.9"/><circle cx="432" cy="1057" r="1.8"/><circle cx="609" cy="870" r="1.4"/><circle cx="657" cy="750" r="1.0"/><circle cx="551" cy="992" r="2.0"/><circle cx="472" cy="715" r="0.9"/><circle cx="736" cy="870" r="2.4"/><circle cx="513" cy="878" r="1.2"/><circle cx="415" cy="1003" r="2.2"/><circle cx="444" cy="764" r="1.5"/><circle cx="592" cy="850" r="3.1"/><circle cx="731" cy="778" r="1.8"/><circle cx="753" cy="686" r="1.6"/><circle cx="615" cy="875" r="1.3"/><circle cx="529" cy="782" r="0.9"/><circle cx="587" cy="957" r="1.2"/><circle cx="453" cy="818" r="1.4"/><circle cx="721" cy="930" r="1.0"/><circle cx="677" cy="750" r="1.9"/><circle cx="418" cy="1076" r="1.6"/><circle cx="642" cy="773" r="1.1"/><circle cx="524" cy="793" r="1.2"/><circle cx="509" cy="734" r="1.7"/><circle cx="764" cy="891" r="1.7"/><circle cx="720" cy="687" r="0.8"/><circle cx="665" cy="954" r="1.0"/><circle cx="724" cy="904" r="0.9"/><circle cx="472" cy="701" r="0.8"/><circle cx="755" cy="832" r="1.2"/><circle cx="698" cy="1003" r="0.9"/><circle cx="566" cy="654" r="1.2"/><circle cx="777" cy="989" r="2.0"/><circle cx="421" cy="790" r="1.2"/><circle cx="453" cy="811" r="1.3"/><circle cx="719" cy="912" r="1.2"/><circle cx="748" cy="884" r="1.1"/><circle cx="466" cy="956" r="4.8"/><circle cx="679" cy="1009" r="1.4"/><circle cx="646" cy="733" r="0.9"/><circle cx="627" cy="949" r="1.4"/><circle cx="548" cy="847" r="1.4"/><circle cx="464" cy="1038" r="1.1"/><circle cx="621" cy="761" r="3.6"/><circle cx="716" cy="907" r="1.3"/><circle cx="521" cy="1035" r="1.1"/><circle cx="721" cy="727" r="0.8"/><circle cx="426" cy="725" r="5.9"/><circle cx="658" cy="780" r="2.1"/><circle cx="555" cy="903" r="1.4"/><circle cx="488" cy="850" r="1.0"/><circle cx="625" cy="722" r="0.9"/><circle cx="624" cy="791" r="1.4"/><circle cx="662" cy="710" r="3.1"/><circle cx="588" cy="825" r="2.1"/><circle cx="694" cy="972" r="1.4"/><circle cx="724" cy="1017" r="1.0"/><circle cx="623" cy="1039" r="1.1"/><circle cx="574" cy="1039" r="0.7"/><circle cx="682" cy="1037" r="2.0"/><circle cx="692" cy="779" r="1.5"/><circle cx="460" cy="841" r="1.0"/><circle cx="433" cy="948" r="0.9"/><circle cx="527" cy="818" r="0.7"/><circle cx="751" cy="1065" r="2.3"/><circle cx="570" cy="996" r="1.2"/><circle cx="624" cy="1038" r="1.3"/><circle cx="460" cy="880" r="2.4"/><circle cx="504" cy="777" r="0.7"/><circle cx="745" cy="1000" r="0.9"/><circle cx="631" cy="667" r="1.3"/><circle cx="528" cy="863" r="3.6"/><circle cx="589" cy="736" r="1.3"/><circle cx="746" cy="732" r="1.8"/><circle cx="589" cy="721" r="2.4"/><circle cx="489" cy="921" r="1.3"/><circle cx="433" cy="693" r="1.7"/><circle cx="747" cy="1024" r="1.5"/><circle cx="672" cy="1053" r="0.8"/><circle cx="497" cy="780" r="1.6"/><circle cx="481" cy="749" r="2.2"/><circle cx="552" cy="934" r="2.0"/><circle cx="499" cy="777" r="3.2"/><circle cx="516" cy="924" r="1.4"/><circle cx="577" cy="876" r="0.7"/><circle cx="636" cy="770" r="1.3"/><circle cx="446" cy="770" r="1.6"/><circle cx="517" cy="884" r="1.3"/><circle cx="779" cy="662" r="1.2"/><circle cx="556" cy="1049" r="0.8"/><circle cx="620" cy="926" r="1.2"/><circle cx="704" cy="871" r="1.3"/><circle cx="667" cy="872" r="2.6"/><circle cx="702" cy="719" r="1.6"/><circle cx="577" cy="982" r="2.2"/><circle cx="501" cy="859" r="1.1"/><circle cx="599" cy="662" r="2.1"/><circle cx="626" cy="1025" r="0.8"/><circle cx="421" cy="862" r="1.0"/><circle cx="511" cy="993" r="1.3"/><circle cx="624" cy="882" r="1.6"/><circle cx="468" cy="782" r="0.9"/><circle cx="644" cy="875" r="1.1"/><circle cx="447" cy="1002" r="0.9"/><circle cx="473" cy="946" r="2.2"/><circle cx="437" cy="825" r="0.9"/><circle cx="773" cy="665" r="1.2"/><circle cx="779" cy="710" r="1.2"/><circle cx="429" cy="751" r="1.5"/><circle cx="559" cy="776" r="0.8"/><circle cx="427" cy="1078" r="2.1"/><circle cx="499" cy="757" r="1.6"/><circle cx="585" cy="1051" r="0.9"/><circle cx="777" cy="912" r="1.0"/><circle cx="654" cy="672" r="1.2"/><circle cx="734" cy="903" r="1.9"/><circle cx="559" cy="1012" r="1.2"/><circle cx="494" cy="797" r="1.1"/><circle cx="475" cy="735" r="1.0"/><circle cx="528" cy="841" r="5.2"/><circle cx="733" cy="736" r="0.8"/><circle cx="670" cy="804" r="0.7"/><circle cx="481" cy="761" r="1.3"/><circle cx="679" cy="763" r="0.8"/><circle cx="761" cy="803" r="2.1"/><circle cx="750" cy="656" r="1.0"/><circle cx="445" cy="1029" r="1.2"/><circle cx="606" cy="671" r="0.9"/><circle cx="429" cy="712" r="1.4"/><circle cx="530" cy="831" r="0.8"/><circle cx="675" cy="760" r="2.1"/><circle cx="468" cy="736" r="1.2"/><circle cx="564" cy="814" r="1.6"/><circle cx="522" cy="796" r="0.7"/><circle cx="423" cy="920" r="2.2"/><circle cx="775" cy="776" r="2.3"/><circle cx="494" cy="945" r="2.4"/><circle cx="735" cy="749" r="1.5"/><circle cx="572" cy="817" r="1.0"/><circle cx="535" cy="862" r="0.8"/><circle cx="563" cy="853" r="1.2"/><circle cx="503" cy="687" r="1.0"/><circle cx="470" cy="899" r="2.0"/><circle cx="673" cy="657" r="1.0"/><circle cx="437" cy="822" r="1.0"/><circle cx="631" cy="850" r="0.9"/><circle cx="423" cy="797" r="2.0"/><circle cx="511" cy="936" r="1.0"/><circle cx="642" cy="1060" r="1.1"/><circle cx="763" cy="981" r="2.0"/><circle cx="566" cy="827" r="1.3"/><circle cx="739" cy="812" r="2.4"/><circle cx="464" cy="867" r="1.0"/><circle cx="775" cy="712" r="0.9"/><circle cx="666" cy="749" r="1.1"/><circle cx="560" cy="751" r="1.2"/><circle cx="617" cy="917" r="2.2"/><circle cx="772" cy="791" r="1.3"/><circle cx="530" cy="957" r="2.1"/><circle cx="771" cy="1004" r="1.1"/><circle cx="596" cy="891" r="0.9"/><circle cx="691" cy="878" r="0.9"/><circle cx="534" cy="724" r="0.8"/><circle cx="437" cy="677" r="1.2"/><circle cx="456" cy="843" r="1.9"/><circle cx="474" cy="1022" r="1.5"/><circle cx="508" cy="867" r="1.8"/><circle cx="679" cy="756" r="1.7"/><circle cx="538" cy="976" r="2.2"/><circle cx="624" cy="829" r="2.0"/><circle cx="721" cy="994" r="1.0"/><circle cx="662" cy="747" r="0.7"/><circle cx="631" cy="1054" r="2.6"/><circle cx="668" cy="829" r="1.8"/><circle cx="759" cy="1075" r="1.2"/><circle cx="458" cy="665" r="1.2"/><circle cx="782" cy="699" r="0.7"/><circle cx="615" cy="856" r="0.9"/><circle cx="710" cy="1010" r="1.0"/><circle cx="643" cy="978" r="4.5"/><circle cx="671" cy="883" r="1.5"/><circle cx="479" cy="693" r="2.7"/><circle cx="595" cy="699" r="0.7"/><circle cx="623" cy="709" r="1.7"/><circle cx="498" cy="856" r="0.9"/><circle cx="433" cy="675" r="1.7"/><circle cx="443" cy="726" r="1.4"/><circle cx="489" cy="1023" r="1.0"/><circle cx="713" cy="818" r="1.1"/><circle cx="657" cy="917" r="1.4"/><circle cx="734" cy="1078" r="1.3"/><circle cx="682" cy="723" r="0.8"/><circle cx="458" cy="679" r="1.2"/><circle cx="529" cy="870" r="0.8"/><circle cx="769" cy="652" r="1.3"/><circle cx="707" cy="965" r="1.3"/><circle cx="720" cy="979" r="3.8"/><circle cx="766" cy="821" r="1.7"/><circle cx="751" cy="657" r="1.6"/><circle cx="558" cy="807" r="2.2"/><circle cx="549" cy="923" r="0.9"/><circle cx="749" cy="786" r="0.9"/><circle cx="688" cy="739" r="1.9"/><circle cx="666" cy="724" r="0.8"/><circle cx="544" cy="834" r="1.1"/><circle cx="563" cy="786" r="1.4"/><circle cx="490" cy="1028" r="1.2"/><circle cx="454" cy="1075" r="1.4"/><circle cx="495" cy="824" r="1.6"/><circle cx="515" cy="940" r="2.8"/><circle cx="482" cy="802" r="4.0"/><circle cx="649" cy="811" r="1.6"/><circle cx="642" cy="1031" r="2.0"/><circle cx="601" cy="893" r="1.3"/><circle cx="669" cy="843" r="1.8"/><circle cx="556" cy="747" r="2.0"/><circle cx="605" cy="661" r="1.8"/><circle cx="634" cy="904" r="2.6"/><circle cx="587" cy="1077" r="1.7"/><circle cx="687" cy="1075" r="1.3"/><circle cx="461" cy="1076" r="0.9"/><circle cx="725" cy="928" r="3.4"/><circle cx="709" cy="869" r="3.8"/><circle cx="736" cy="955" r="1.3"/><circle cx="582" cy="879" r="1.6"/><circle cx="517" cy="926" r="1.1"/><circle cx="705" cy="859" r="1.3"/><circle cx="730" cy="981" r="1.3"/><circle cx="709" cy="713" r="0.8"/><circle cx="428" cy="797" r="2.2"/><circle cx="457" cy="726" r="1.3"/><circle cx="642" cy="1037" r="1.4"/><circle cx="490" cy="919" r="2.1"/><circle cx="487" cy="936" r="0.7"/><circle cx="540" cy="784" r="1.7"/><circle cx="637" cy="948" r="0.8"/><circle cx="671" cy="849" r="0.8"/><circle cx="762" cy="911" r="0.8"/><circle cx="782" cy="946" r="1.8"/><circle cx="529" cy="824" r="1.1"/><circle cx="571" cy="1002" r="1.0"/><circle cx="601" cy="1055" r="1.2"/><circle cx="501" cy="898" r="1.3"/><circle cx="520" cy="1017" r="1.9"/><circle cx="759" cy="815" r="2.0"/><circle cx="580" cy="675" r="0.9"/><circle cx="577" cy="1060" r="1.2"/><circle cx="663" cy="753" r="0.8"/><circle cx="745" cy="756" r="0.9"/><circle cx="718" cy="1015" r="1.9"/><circle cx="451" cy="1035" r="1.0"/><circle cx="553" cy="960" r="1.7"/><circle cx="746" cy="1058" r="1.1"/><circle cx="588" cy="804" r="0.9"/><circle cx="662" cy="909" r="3.6"/><circle cx="781" cy="818" r="2.0"/><circle cx="673" cy="1079" r="1.0"/><circle cx="562" cy="931" r="1.4"/><circle cx="491" cy="807" r="1.0"/><circle cx="688" cy="683" r="1.2"/><circle cx="645" cy="968" r="1.3"/><circle cx="684" cy="983" r="1.0"/><circle cx="420" cy="1019" r="3.5"/><circle cx="423" cy="799" r="1.1"/><circle cx="455" cy="989" r="1.1"/><circle cx="460" cy="893" r="0.8"/><circle cx="604" cy="774" r="1.6"/><circle cx="567" cy="671" r="1.0"/><circle cx="621" cy="846" r="1.5"/><circle cx="729" cy="714" r="3.0"/><circle cx="564" cy="912" r="2.4"/><circle cx="567" cy="652" r="1.3"/><circle cx="686" cy="956" r="1.1"/><circle cx="425" cy="695" r="1.4"/><circle cx="652" cy="1014" r="1.0"/><circle cx="443" cy="760" r="1.3"/><circle cx="536" cy="859" r="2.3"/><circle cx="764" cy="893" r="1.3"/><circle cx="560" cy="777" r="1.7"/><circle cx="550" cy="833" r="1.0"/><circle cx="573" cy="842" r="1.3"/><circle cx="437" cy="876" r="1.0"/><circle cx="496" cy="690" r="0.9"/><circle cx="593" cy="747" r="1.9"/><circle cx="417" cy="823" r="2.4"/><circle cx="634" cy="1063" r="1.1"/><circle cx="550" cy="777" r="2.0"/><circle cx="531" cy="862" r="1.2"/><circle cx="434" cy="687" r="0.9"/><circle cx="708" cy="831" r="1.8"/><circle cx="520" cy="941" r="1.4"/><circle cx="722" cy="789" r="1.3"/><circle cx="706" cy="925" r="1.2"/><circle cx="432" cy="917" r="2.3"/><circle cx="650" cy="657" r="3.3"/><circle cx="629" cy="649" r="1.8"/><circle cx="665" cy="1073" r="2.5"/><circle cx="703" cy="838" r="1.8"/><circle cx="580" cy="836" r="0.9"/><circle cx="686" cy="678" r="1.3"/><circle cx="661" cy="884" r="0.8"/><circle cx="529" cy="1060" r="2.3"/><circle cx="492" cy="827" r="1.3"/><circle cx="460" cy="1025" r="0.7"/><circle cx="574" cy="810" r="2.3"/><circle cx="597" cy="946" r="1.2"/><circle cx="453" cy="968" r="1.1"/><circle cx="489" cy="797" r="0.9"/><circle cx="633" cy="872" r="1.1"/><circle cx="726" cy="802" r="1.9"/><circle cx="777" cy="789" r="1.6"/><circle cx="511" cy="963" r="1.7"/><circle cx="438" cy="1004" r="1.2"/><circle cx="574" cy="914" r="2.4"/><circle cx="751" cy="844" r="0.9"/><circle cx="693" cy="691" r="1.3"/><circle cx="427" cy="949" r="2.0"/><circle cx="537" cy="713" r="3.3"/><circle cx="712" cy="689" r="1.6"/><circle cx="488" cy="879" r="1.5"/><circle cx="697" cy="899" r="2.3"/><circle cx="669" cy="805" r="3.3"/><circle cx="522" cy="1018" r="1.7"/><circle cx="506" cy="656" r="0.9"/><circle cx="522" cy="756" r="1.0"/><circle cx="515" cy="770" r="1.1"/><circle cx="737" cy="716" r="2.3"/><circle cx="639" cy="882" r="1.9"/><circle cx="658" cy="1045" r="1.7"/><circle cx="434" cy="1053" r="1.3"/><circle cx="500" cy="843" r="1.2"/><circle cx="763" cy="866" r="1.7"/><circle cx="500" cy="1058" r="1.4"/><circle cx="657" cy="678" r="2.5"/><circle cx="623" cy="699" r="4.3"/><circle cx="737" cy="674" r="1.5"/><circle cx="425" cy="894" r="5.2"/><circle cx="730" cy="987" r="0.8"/><circle cx="609" cy="727" r="0.9"/><circle cx="599" cy="733" r="1.8"/><circle cx="594" cy="681" r="1.1"/><circle cx="774" cy="890" r="0.9"/><circle cx="538" cy="951" r="3.6"/><circle cx="765" cy="1048" r="2.3"/><circle cx="421" cy="859" r="2.1"/><circle cx="641" cy="912" r="2.5"/><circle cx="606" cy="1062" r="0.8"/><circle cx="736" cy="1061" r="0.7"/><circle cx="721" cy="945" r="1.1"/><circle cx="694" cy="997" r="0.7"/><circle cx="708" cy="1069" r="1.8"/><circle cx="538" cy="797" r="1.2"/><circle cx="511" cy="901" r="0.9"/><circle cx="664" cy="844" r="1.3"/><circle cx="479" cy="712" r="1.0"/><circle cx="704" cy="791" r="1.2"/><circle cx="510" cy="873" r="1.3"/><circle cx="482" cy="748" r="0.9"/><circle cx="683" cy="939" r="1.9"/><circle cx="443" cy="978" r="0.9"/><circle cx="567" cy="1076" r="0.9"/><circle cx="751" cy="1076" r="0.8"/><circle cx="706" cy="986" r="1.3"/><circle cx="554" cy="771" r="2.1"/><circle cx="590" cy="1001" r="1.0"/><circle cx="555" cy="675" r="2.6"/><circle cx="490" cy="1027" r="3.5"/><circle cx="541" cy="1050" r="1.2"/><circle cx="764" cy="730" r="1.2"/><circle cx="741" cy="962" r="2.9"/><circle cx="552" cy="699" r="1.4"/><circle cx="441" cy="727" r="0.7"/><circle cx="528" cy="726" r="1.1"/><circle cx="614" cy="893" r="1.9"/><circle cx="764" cy="682" r="0.8"/><circle cx="528" cy="976" r="3.0"/><circle cx="473" cy="790" r="1.7"/><circle cx="707" cy="1068" r="1.1"/><circle cx="727" cy="848" r="1.4"/><circle cx="776" cy="658" r="1.8"/><circle cx="433" cy="718" r="1.2"/><circle cx="492" cy="655" r="1.3"/><circle cx="599" cy="930" r="0.8"/><circle cx="420" cy="779" r="0.9"/><circle cx="643" cy="807" r="1.1"/><circle cx="531" cy="801" r="2.0"/><circle cx="568" cy="881" r="0.9"/><circle cx="752" cy="748" r="3.4"/><circle cx="740" cy="717" r="1.4"/><circle cx="521" cy="721" r="1.6"/><circle cx="630" cy="715" r="2.7"/><circle cx="450" cy="945" r="1.1"/><circle cx="598" cy="1046" r="1.0"/><circle cx="415" cy="862" r="1.1"/><circle cx="648" cy="847" r="1.0"/><circle cx="592" cy="925" r="2.7"/><circle cx="578" cy="684" r="1.6"/><circle cx="721" cy="993" r="1.3"/><circle cx="600" cy="832" r="2.3"/><circle cx="595" cy="856" r="1.3"/><circle cx="600" cy="795" r="0.9"/><circle cx="723" cy="995" r="3.5"/><circle cx="667" cy="992" r="2.2"/><circle cx="710" cy="723" r="1.7"/><circle cx="504" cy="1045" r="1.1"/><circle cx="541" cy="990" r="2.3"/><circle cx="759" cy="926" r="1.2"/><circle cx="454" cy="1072" r="1.7"/><circle cx="483" cy="948" r="2.4"/><circle cx="644" cy="701" r="1.5"/><circle cx="735" cy="980" r="2.3"/><circle cx="625" cy="1056" r="1.9"/><circle cx="556" cy="800" r="0.8"/><circle cx="708" cy="746" r="2.2"/><circle cx="671" cy="870" r="0.9"/><circle cx="483" cy="928" r="2.3"/><circle cx="536" cy="1048" r="2.7"/><circle cx="766" cy="915" r="3.3"/><circle cx="537" cy="768" r="1.0"/><circle cx="427" cy="1020" r="1.0"/><circle cx="689" cy="755" r="1.1"/><circle cx="503" cy="789" r="0.7"/><circle cx="545" cy="875" r="3.2"/><circle cx="567" cy="823" r="1.0"/><circle cx="769" cy="700" r="1.2"/><circle cx="696" cy="887" r="2.3"/><circle cx="748" cy="756" r="1.4"/><circle cx="609" cy="729" r="1.5"/><circle cx="470" cy="886" r="1.2"/><circle cx="683" cy="785" r="2.0"/><circle cx="675" cy="845" r="0.8"/><circle cx="590" cy="1060" r="1.5"/><circle cx="440" cy="764" r="1.8"/><circle cx="461" cy="831" r="2.1"/><circle cx="563" cy="928" r="2.0"/><circle cx="431" cy="955" r="0.7"/><circle cx="589" cy="654" r="1.0"/><circle cx="587" cy="693" r="3.4"/><circle cx="594" cy="902" r="1.4"/><circle cx="458" cy="779" r="1.3"/><circle cx="602" cy="825" r="1.3"/><circle cx="509" cy="990" r="1.8"/><circle cx="549" cy="836" r="0.9"/><circle cx="645" cy="825" r="1.2"/><circle cx="582" cy="852" r="1.9"/><circle cx="553" cy="1036" r="3.3"/><circle cx="563" cy="938" r="1.7"/><circle cx="682" cy="1058" r="2.1"/><circle cx="575" cy="930" r="1.2"/><circle cx="613" cy="1071" r="1.2"/><circle cx="420" cy="827" r="1.7"/><circle cx="641" cy="743" r="1.4"/><circle cx="487" cy="1042" r="1.1"/><circle cx="718" cy="1010" r="1.1"/><circle cx="677" cy="977" r="2.0"/><circle cx="507" cy="952" r="1.9"/><circle cx="779" cy="706" r="1.7"/><circle cx="683" cy="1058" r="1.1"/><circle cx="609" cy="861" r="1.1"/><circle cx="745" cy="934" r="1.3"/><circle cx="569" cy="710" r="1.9"/><circle cx="610" cy="1076" r="2.4"/><circle cx="544" cy="976" r="0.9"/><circle cx="670" cy="946" r="1.8"/><circle cx="515" cy="802" r="0.7"/><circle cx="553" cy="932" r="0.9"/><circle cx="737" cy="1051" r="0.8"/><circle cx="458" cy="684" r="2.1"/><circle cx="512" cy="859" r="1.4"/><circle cx="717" cy="1019" r="1.2"/><circle cx="673" cy="793" r="1.6"/><circle cx="589" cy="783" r="1.3"/><circle cx="625" cy="911" r="4.1"/><circle cx="496" cy="915" r="1.4"/><circle cx="540" cy="838" r="1.3"/><circle cx="753" cy="940" r="0.9"/><circle cx="675" cy="741" r="2.3"/><circle cx="498" cy="805" r="1.2"/><circle cx="431" cy="948" r="1.3"/><circle cx="615" cy="900" r="0.7"/><circle cx="545" cy="1073" r="2.3"/><circle cx="437" cy="691" r="1.2"/><circle cx="479" cy="765" r="2.1"/><circle cx="533" cy="849" r="1.1"/><circle cx="546" cy="803" r="0.9"/><circle cx="511" cy="654" r="1.1"/><circle cx="513" cy="696" r="1.9"/><circle cx="603" cy="782" r="2.2"/><circle cx="644" cy="933" r="1.9"/><circle cx="567" cy="816" r="1.0"/><circle cx="610" cy="878" r="2.3"/><circle cx="497" cy="657" r="0.7"/><circle cx="709" cy="916" r="0.8"/><circle cx="735" cy="1009" r="2.1"/><circle cx="689" cy="844" r="1.1"/><circle cx="740" cy="1076" r="3.4"/><circle cx="442" cy="754" r="3.1"/><circle cx="604" cy="781" r="1.9"/><circle cx="780" cy="680" r="3.6"/><circle cx="469" cy="816" r="1.5"/><circle cx="622" cy="1054" r="1.2"/><circle cx="633" cy="899" r="1.0"/><circle cx="747" cy="939" r="1.0"/><circle cx="615" cy="793" r="2.0"/><circle cx="421" cy="742" r="1.6"/><circle cx="441" cy="977" r="1.4"/><circle cx="621" cy="691" r="1.7"/><circle cx="715" cy="961" r="1.5"/><circle cx="427" cy="992" r="0.8"/><circle cx="425" cy="718" r="1.4"/><circle cx="533" cy="759" r="1.6"/><circle cx="649" cy="913" r="2.5"/><circle cx="622" cy="813" r="1.7"/><circle cx="679" cy="727" r="1.4"/><circle cx="503" cy="768" r="3.2"/><circle cx="438" cy="728" r="0.9"/><circle cx="727" cy="950" r="3.2"/><circle cx="646" cy="813" r="1.9"/><circle cx="436" cy="860" r="1.1"/><circle cx="432" cy="659" r="4.5"/><circle cx="536" cy="711" r="2.3"/><circle cx="481" cy="864" r="1.2"/><circle cx="623" cy="750" r="1.2"/><circle cx="443" cy="1021" r="0.8"/><circle cx="587" cy="1012" r="2.1"/><circle cx="696" cy="960" r="1.3"/><circle cx="469" cy="717" r="0.7"/><circle cx="738" cy="812" r="0.7"/><circle cx="727" cy="907" r="2.4"/><circle cx="456" cy="771" r="0.8"/><circle cx="488" cy="924" r="0.8"/><circle cx="612" cy="810" r="1.1"/><circle cx="602" cy="815" r="0.7"/><circle cx="642" cy="731" r="0.7"/><circle cx="742" cy="901" r="1.1"/><circle cx="762" cy="704" r="1.2"/><circle cx="552" cy="953" r="2.4"/><circle cx="519" cy="774" r="2.2"/><circle cx="673" cy="1047" r="1.0"/><circle cx="730" cy="978" r="1.4"/><circle cx="688" cy="1022" r="1.1"/><circle cx="769" cy="1036" r="2.3"/><circle cx="784" cy="1010" r="2.4"/><circle cx="467" cy="822" r="1.5"/><circle cx="703" cy="674" r="1.7"/><circle cx="533" cy="910" r="1.0"/><circle cx="731" cy="1074" r="1.0"/><circle cx="671" cy="729" r="1.6"/><circle cx="620" cy="794" r="0.7"/><circle cx="415" cy="789" r="1.4"/><circle cx="650" cy="675" r="1.6"/><circle cx="592" cy="960" r="2.3"/><circle cx="570" cy="785" r="0.9"/><circle cx="688" cy="847" r="1.6"/><circle cx="704" cy="1066" r="1.1"/><circle cx="474" cy="662" r="0.8"/><circle cx="684" cy="895" r="2.4"/><circle cx="436" cy="690" r="1.0"/><circle cx="719" cy="943" r="1.3"/><circle cx="552" cy="696" r="1.4"/><circle cx="499" cy="660" r="0.7"/><circle cx="611" cy="702" r="2.2"/><circle cx="541" cy="699" r="2.1"/><circle cx="741" cy="887" r="2.3"/><circle cx="665" cy="1069" r="1.2"/><circle cx="648" cy="850" r="1.0"/><circle cx="511" cy="907" r="1.1"/><circle cx="436" cy="704" r="2.1"/><circle cx="780" cy="990" r="1.0"/><circle cx="601" cy="995" r="1.3"/><circle cx="593" cy="819" r="1.0"/><circle cx="784" cy="667" r="0.8"/><circle cx="665" cy="712" r="1.0"/><circle cx="637" cy="978" r="0.9"/><circle cx="550" cy="1032" r="0.7"/><circle cx="742" cy="856" r="0.8"/><circle cx="743" cy="971" r="1.2"/><circle cx="493" cy="840" r="1.5"/><circle cx="760" cy="792" r="1.2"/><circle cx="454" cy="663" r="1.9"/><circle cx="747" cy="989" r="0.7"/><circle cx="637" cy="851" r="1.3"/><circle cx="491" cy="926" r="1.3"/><circle cx="765" cy="915" r="1.2"/><circle cx="748" cy="991" r="1.1"/><circle cx="466" cy="884" r="3.4"/><circle cx="506" cy="886" r="0.8"/><circle cx="689" cy="976" r="1.0"/><circle cx="672" cy="962" r="0.8"/><circle cx="449" cy="720" r="1.9"/><circle cx="652" cy="805" r="0.8"/><circle cx="775" cy="909" r="1.2"/><circle cx="635" cy="913" r="2.0"/><circle cx="738" cy="1067" r="1.2"/><circle cx="553" cy="825" r="1.2"/><circle cx="544" cy="799" r="2.2"/><circle cx="664" cy="1012" r="1.1"/><circle cx="507" cy="784" r="1.3"/><circle cx="755" cy="778" r="0.8"/><circle cx="467" cy="923" r="1.5"/><circle cx="508" cy="976" r="1.3"/><circle cx="545" cy="852" r="0.9"/><circle cx="571" cy="767" r="1.4"/><circle cx="650" cy="995" r="0.8"/><circle cx="458" cy="681" r="2.0"/><circle cx="420" cy="843" r="1.7"/><circle cx="427" cy="829" r="1.4"/><circle cx="547" cy="1046" r="2.0"/><circle cx="461" cy="997" r="1.1"/><circle cx="450" cy="687" r="0.8"/><circle cx="781" cy="897" r="2.4"/><circle cx="694" cy="927" r="1.2"/><circle cx="662" cy="715" r="1.0"/><circle cx="605" cy="956" r="2.0"/><circle cx="706" cy="1004" r="0.8"/><circle cx="431" cy="716" r="2.8"/><circle cx="576" cy="848" r="1.7"/><circle cx="702" cy="791" r="2.2"/><circle cx="414" cy="884" r="1.3"/><circle cx="440" cy="763" r="2.0"/><circle cx="661" cy="826" r="0.8"/><circle cx="585" cy="758" r="1.5"/><circle cx="465" cy="733" r="1.1"/><circle cx="415" cy="1074" r="1.8"/><circle cx="473" cy="1005" r="2.6"/><circle cx="694" cy="1001" r="2.7"/><circle cx="459" cy="718" r="1.3"/><circle cx="751" cy="852" r="0.9"/><circle cx="503" cy="928" r="2.2"/><circle cx="576" cy="845" r="1.0"/><circle cx="582" cy="944" r="1.7"/><circle cx="624" cy="710" r="1.0"/><circle cx="547" cy="661" r="1.0"/><circle cx="763" cy="1010" r="0.9"/><circle cx="550" cy="782" r="1.1"/><circle cx="724" cy="812" r="0.8"/><circle cx="420" cy="978" r="1.2"/><circle cx="707" cy="683" r="0.9"/><circle cx="698" cy="966" r="1.0"/><circle cx="545" cy="851" r="1.7"/><circle cx="714" cy="1045" r="2.4"/><circle cx="761" cy="721" r="4.1"/><circle cx="712" cy="699" r="1.0"/><circle cx="725" cy="942" r="1.3"/><circle cx="734" cy="868" r="0.9"/><circle cx="522" cy="828" r="3.1"/><circle cx="717" cy="678" r="1.2"/><circle cx="540" cy="745" r="0.7"/><circle cx="567" cy="884" r="1.1"/><circle cx="522" cy="654" r="1.7"/><circle cx="596" cy="811" r="0.7"/><circle cx="524" cy="776" r="0.7"/><circle cx="592" cy="655" r="1.8"/><circle cx="578" cy="875" r="0.8"/><circle cx="705" cy="888" r="0.9"/><circle cx="692" cy="865" r="2.2"/><circle cx="745" cy="961" r="1.9"/><circle cx="611" cy="898" r="1.3"/><circle cx="731" cy="670" r="2.0"/><circle cx="635" cy="1040" r="1.0"/><circle cx="553" cy="1058" r="1.1"/><circle cx="467" cy="973" r="1.2"/><circle cx="528" cy="1029" r="0.9"/><circle cx="685" cy="1028" r="1.7"/><circle cx="444" cy="954" r="1.5"/><circle cx="760" cy="876" r="1.0"/><circle cx="539" cy="692" r="2.3"/><circle cx="460" cy="840" r="1.2"/><circle cx="455" cy="791" r="1.0"/><circle cx="575" cy="905" r="3.5"/><circle cx="750" cy="1006" r="0.9"/><circle cx="584" cy="926" r="1.7"/><circle cx="781" cy="782" r="0.8"/><circle cx="491" cy="963" r="1.4"/><circle cx="502" cy="752" r="2.3"/><circle cx="511" cy="691" r="3.6"/><circle cx="679" cy="852" r="2.2"/><circle cx="602" cy="764" r="1.2"/><circle cx="534" cy="924" r="1.4"/><circle cx="492" cy="745" r="3.5"/><circle cx="756" cy="1011" r="2.2"/><circle cx="624" cy="679" r="2.2"/><circle cx="724" cy="666" r="1.2"/><circle cx="595" cy="1034" r="4.7"/><circle cx="664" cy="935" r="1.8"/><circle cx="651" cy="676" r="3.3"/><circle cx="711" cy="847" r="1.0"/><circle cx="666" cy="884" r="0.7"/><circle cx="561" cy="753" r="0.9"/><circle cx="568" cy="948" r="3.2"/><circle cx="422" cy="1023" r="2.1"/><circle cx="641" cy="800" r="0.7"/><circle cx="660" cy="670" r="2.3"/><circle cx="661" cy="909" r="2.4"/><circle cx="715" cy="1076" r="0.7"/><circle cx="641" cy="923" r="2.0"/><circle cx="548" cy="649" r="2.0"/><circle cx="779" cy="904" r="2.2"/><circle cx="781" cy="847" r="1.8"/><circle cx="418" cy="788" r="1.4"/><circle cx="560" cy="766" r="1.5"/><circle cx="527" cy="818" r="1.1"/><circle cx="570" cy="994" r="1.4"/><circle cx="486" cy="877" r="0.7"/><circle cx="526" cy="1035" r="1.0"/><circle cx="608" cy="762" r="0.7"/><circle cx="543" cy="770" r="2.2"/><circle cx="673" cy="905" r="2.1"/><circle cx="434" cy="703" r="2.2"/><circle cx="780" cy="983" r="1.1"/><circle cx="645" cy="909" r="1.4"/><circle cx="603" cy="763" r="4.5"/><circle cx="440" cy="937" r="0.9"/><circle cx="526" cy="910" r="1.2"/><circle cx="749" cy="1076" r="2.3"/><circle cx="508" cy="1004" r="1.1"/><circle cx="442" cy="690" r="2.6"/><circle cx="679" cy="875" r="1.3"/><circle cx="436" cy="1031" r="1.9"/><circle cx="579" cy="659" r="1.4"/><circle cx="609" cy="1048" r="1.5"/><circle cx="681" cy="951" r="1.2"/><circle cx="628" cy="826" r="0.9"/><circle cx="520" cy="1032" r="1.2"/><circle cx="550" cy="729" r="1.4"/><circle cx="692" cy="1072" r="1.5"/><circle cx="474" cy="668" r="2.0"/><circle cx="768" cy="775" r="0.9"/><circle cx="468" cy="659" r="1.0"/><circle cx="550" cy="1059" r="1.3"/><circle cx="611" cy="692" r="1.1"/><circle cx="737" cy="669" r="1.6"/><circle cx="668" cy="1008" r="1.6"/><circle cx="472" cy="1066" r="3.5"/><circle cx="614" cy="669" r="1.3"/><circle cx="439" cy="775" r="1.3"/><circle cx="545" cy="683" r="0.8"/><circle cx="574" cy="914" r="1.5"/><circle cx="612" cy="671" r="1.3"/><circle cx="511" cy="1003" r="1.0"/><circle cx="707" cy="649" r="1.9"/><circle cx="678" cy="1057" r="1.6"/><circle cx="488" cy="856" r="1.1"/><circle cx="447" cy="947" r="0.7"/><circle cx="459" cy="1052" r="2.3"/><circle cx="558" cy="1073" r="1.2"/><circle cx="762" cy="737" r="0.8"/><circle cx="445" cy="995" r="1.9"/><circle cx="456" cy="925" r="0.8"/><circle cx="634" cy="926" r="2.2"/><circle cx="465" cy="779" r="1.0"/><circle cx="424" cy="1023" r="2.2"/><circle cx="595" cy="1042" r="2.2"/><circle cx="712" cy="741" r="0.7"/><circle cx="697" cy="852" r="4.3"/><circle cx="574" cy="1022" r="3.3"/><circle cx="741" cy="1047" r="1.1"/><circle cx="438" cy="940" r="3.0"/><circle cx="468" cy="893" r="1.0"/><circle cx="444" cy="828" r="2.1"/><circle cx="730" cy="845" r="0.7"/><circle cx="706" cy="894" r="0.8"/><circle cx="584" cy="674" r="0.8"/><circle cx="571" cy="706" r="2.0"/><circle cx="735" cy="887" r="0.9"/><circle cx="725" cy="900" r="2.0"/><circle cx="432" cy="733" r="1.3"/><circle cx="763" cy="903" r="0.7"/><circle cx="621" cy="824" r="2.6"/><circle cx="490" cy="654" r="1.3"/><circle cx="736" cy="714" r="1.1"/><circle cx="505" cy="913" r="3.3"/><circle cx="518" cy="910" r="1.2"/><circle cx="510" cy="1023" r="2.3"/><circle cx="542" cy="1060" r="1.7"/><circle cx="653" cy="781" r="0.7"/><circle cx="640" cy="752" r="1.2"/><circle cx="467" cy="974" r="1.0"/><circle cx="759" cy="1006" r="2.4"/><circle cx="637" cy="1052" r="2.0"/><circle cx="534" cy="811" r="1.6"/><circle cx="652" cy="1021" r="1.6"/><circle cx="424" cy="806" r="1.3"/><circle cx="616" cy="871" r="2.0"/><circle cx="665" cy="888" r="1.6"/><circle cx="460" cy="837" r="2.3"/><circle cx="522" cy="896" r="1.0"/><circle cx="480" cy="989" r="0.9"/><circle cx="517" cy="735" r="0.8"/><circle cx="608" cy="721" r="2.0"/><circle cx="645" cy="855" r="1.7"/><circle cx="586" cy="945" r="1.2"/><circle cx="631" cy="1069" r="1.9"/><circle cx="698" cy="772" r="1.0"/><circle cx="686" cy="958" r="1.4"/><circle cx="777" cy="862" r="5.1"/><circle cx="556" cy="685" r="1.1"/><circle cx="680" cy="914" r="1.8"/><circle cx="689" cy="909" r="1.9"/><circle cx="661" cy="889" r="1.2"/><circle cx="674" cy="832" r="3.0"/><circle cx="476" cy="868" r="0.8"/><circle cx="743" cy="724" r="1.6"/><circle cx="605" cy="1079" r="1.3"/><circle cx="416" cy="1070" r="2.9"/><circle cx="650" cy="846" r="0.9"/><circle cx="577" cy="1024" r="1.1"/><circle cx="588" cy="886" r="2.0"/><circle cx="534" cy="1060" r="1.7"/><circle cx="617" cy="1023" r="1.2"/><circle cx="594" cy="772" r="0.9"/><circle cx="576" cy="830" r="1.7"/><circle cx="643" cy="852" r="2.2"/><circle cx="502" cy="1070" r="0.9"/><circle cx="508" cy="956" r="1.2"/><circle cx="509" cy="1019" r="1.3"/><circle cx="576" cy="821" r="1.9"/><circle cx="617" cy="890" r="3.3"/><circle cx="448" cy="1075" r="0.7"/><circle cx="717" cy="766" r="0.8"/><circle cx="597" cy="1012" r="0.8"/><circle cx="419" cy="670" r="1.0"/><circle cx="772" cy="928" r="2.0"/><circle cx="751" cy="939" r="1.0"/><circle cx="591" cy="695" r="3.0"/><circle cx="488" cy="860" r="1.7"/><circle cx="631" cy="687" r="0.8"/><circle cx="601" cy="945" r="1.2"/><circle cx="631" cy="972" r="4.4"/><circle cx="783" cy="844" r="0.8"/><circle cx="445" cy="926" r="0.7"/><circle cx="445" cy="882" r="0.9"/><circle cx="698" cy="840" r="1.2"/><circle cx="782" cy="916" r="1.1"/><circle cx="674" cy="1010" r="1.6"/><circle cx="703" cy="692" r="1.1"/><circle cx="482" cy="890" r="1.4"/><circle cx="574" cy="1000" r="2.9"/><circle cx="698" cy="860" r="0.8"/><circle cx="658" cy="1046" r="1.7"/><circle cx="608" cy="801" r="1.2"/><circle cx="416" cy="856" r="0.8"/><circle cx="685" cy="757" r="0.9"/><circle cx="635" cy="834" r="1.8"/><circle cx="704" cy="886" r="1.0"/><circle cx="508" cy="776" r="3.0"/><circle cx="687" cy="715" r="1.5"/><circle cx="496" cy="702" r="1.3"/><circle cx="771" cy="806" r="1.2"/><circle cx="659" cy="667" r="1.5"/><circle cx="500" cy="984" r="1.6"/><circle cx="602" cy="994" r="1.9"/><circle cx="482" cy="676" r="1.1"/><circle cx="635" cy="846" r="2.0"/><circle cx="653" cy="825" r="1.9"/><circle cx="740" cy="1074" r="2.2"/><circle cx="669" cy="886" r="0.8"/><circle cx="659" cy="754" r="1.9"/><circle cx="639" cy="833" r="0.9"/><circle cx="672" cy="1031" r="0.9"/><circle cx="580" cy="833" r="2.2"/><circle cx="698" cy="997" r="2.4"/><circle cx="580" cy="840" r="1.7"/><circle cx="721" cy="828" r="1.9"/><circle cx="549" cy="652" r="1.0"/><circle cx="766" cy="706" r="3.6"/><circle cx="707" cy="768" r="1.3"/><circle cx="439" cy="776" r="3.2"/><circle cx="719" cy="1008" r="1.1"/><circle cx="449" cy="811" r="1.3"/><circle cx="521" cy="936" r="0.9"/><circle cx="436" cy="899" r="2.1"/><circle cx="569" cy="1053" r="2.0"/><circle cx="737" cy="725" r="1.1"/><circle cx="636" cy="1061" r="1.4"/><circle cx="763" cy="849" r="1.2"/><circle cx="646" cy="1017" r="1.7"/><circle cx="588" cy="849" r="1.1"/><circle cx="469" cy="757" r="0.7"/><circle cx="608" cy="966" r="1.3"/><circle cx="639" cy="932" r="1.3"/><circle cx="543" cy="1013" r="1.4"/><circle cx="667" cy="724" r="1.6"/><circle cx="557" cy="811" r="1.0"/><circle cx="473" cy="820" r="1.3"/><circle cx="545" cy="955" r="1.4"/><circle cx="739" cy="952" r="2.3"/><circle cx="758" cy="826" r="1.5"/><circle cx="549" cy="789" r="1.4"/><circle cx="693" cy="679" r="1.0"/><circle cx="726" cy="921" r="1.2"/><circle cx="501" cy="914" r="1.4"/><circle cx="580" cy="765" r="1.4"/><circle cx="543" cy="752" r="1.2"/><circle cx="762" cy="682" r="1.2"/><circle cx="597" cy="946" r="1.5"/><circle cx="433" cy="724" r="0.8"/><circle cx="520" cy="696" r="1.1"/><circle cx="694" cy="716" r="1.2"/><circle cx="443" cy="708" r="0.9"/><circle cx="704" cy="866" r="1.0"/><circle cx="424" cy="1002" r="1.3"/><circle cx="453" cy="834" r="0.8"/><circle cx="441" cy="1052" r="3.6"/><circle cx="615" cy="964" r="1.9"/><circle cx="478" cy="925" r="1.2"/><circle cx="430" cy="774" r="1.2"/><circle cx="591" cy="771" r="1.9"/><circle cx="521" cy="817" r="0.7"/><circle cx="428" cy="1063" r="1.9"/><circle cx="762" cy="881" r="1.5"/><circle cx="575" cy="912" r="1.2"/><circle cx="541" cy="931" r="1.0"/><circle cx="572" cy="875" r="0.9"/><circle cx="679" cy="719" r="1.4"/><circle cx="640" cy="965" r="2.4"/><circle cx="557" cy="818" r="1.4"/><circle cx="587" cy="765" r="2.1"/><circle cx="733" cy="867" r="1.5"/><circle cx="658" cy="1050" r="1.9"/><circle cx="603" cy="825" r="0.8"/><circle cx="708" cy="870" r="1.1"/><circle cx="721" cy="929" r="1.4"/><circle cx="481" cy="867" r="0.8"/><circle cx="513" cy="728" r="0.7"/><circle cx="653" cy="936" r="1.4"/><circle cx="571" cy="845" r="3.2"/><circle cx="586" cy="970" r="1.7"/><circle cx="440" cy="964" r="2.0"/><circle cx="457" cy="969" r="1.3"/><circle cx="644" cy="923" r="1.0"/><circle cx="685" cy="695" r="1.0"/><circle cx="729" cy="920" r="0.8"/><circle cx="724" cy="1012" r="1.6"/><circle cx="692" cy="651" r="0.9"/><circle cx="768" cy="662" r="1.2"/><circle cx="696" cy="763" r="1.3"/><circle cx="773" cy="1040" r="1.5"/><circle cx="688" cy="928" r="2.2"/><circle cx="600" cy="1070" r="1.0"/><circle cx="650" cy="988" r="2.3"/><circle cx="514" cy="1035" r="1.7"/><circle cx="425" cy="907" r="2.4"/><circle cx="621" cy="961" r="1.6"/><circle cx="661" cy="837" r="0.9"/><circle cx="548" cy="965" r="1.7"/><circle cx="434" cy="988" r="2.2"/><circle cx="705" cy="674" r="1.0"/><circle cx="524" cy="1004" r="0.7"/><circle cx="581" cy="669" r="1.1"/><circle cx="638" cy="882" r="1.1"/><circle cx="607" cy="779" r="0.8"/><circle cx="593" cy="806" r="2.1"/><circle cx="516" cy="910" r="1.2"/><circle cx="490" cy="904" r="2.2"/><circle cx="610" cy="1042" r="5.5"/><circle cx="547" cy="762" r="1.5"/><circle cx="479" cy="688" r="1.8"/><circle cx="755" cy="996" r="0.9"/><circle cx="533" cy="670" r="1.3"/><circle cx="524" cy="651" r="4.5"/><circle cx="701" cy="843" r="2.5"/><circle cx="589" cy="927" r="1.3"/><circle cx="539" cy="941" r="0.8"/><circle cx="446" cy="989" r="3.5"/><circle cx="610" cy="687" r="1.9"/><circle cx="704" cy="922" r="1.6"/><circle cx="467" cy="682" r="0.9"/><circle cx="767" cy="668" r="1.5"/><circle cx="452" cy="1047" r="1.1"/><circle cx="630" cy="820" r="0.8"/><circle cx="671" cy="808" r="2.2"/><circle cx="442" cy="830" r="1.4"/><circle cx="644" cy="732" r="0.7"/><circle cx="604" cy="677" r="1.1"/><circle cx="613" cy="739" r="1.7"/><circle cx="674" cy="670" r="1.8"/><circle cx="478" cy="773" r="1.5"/><circle cx="752" cy="743" r="0.8"/><circle cx="583" cy="1063" r="0.8"/><circle cx="616" cy="924" r="0.9"/><circle cx="638" cy="751" r="1.2"/><circle cx="735" cy="996" r="1.6"/><circle cx="529" cy="907" r="2.0"/><circle cx="619" cy="748" r="0.8"/><circle cx="435" cy="899" r="1.3"/><circle cx="769" cy="710" r="3.1"/><circle cx="416" cy="813" r="0.9"/><circle cx="439" cy="752" r="1.0"/><circle cx="592" cy="747" r="3.5"/><circle cx="599" cy="994" r="1.2"/><circle cx="702" cy="799" r="1.8"/><circle cx="478" cy="828" r="1.2"/><circle cx="507" cy="862" r="2.0"/><circle cx="750" cy="961" r="2.1"/><circle cx="670" cy="1045" r="2.1"/><circle cx="617" cy="878" r="2.8"/><circle cx="484" cy="864" r="1.2"/><circle cx="649" cy="648" r="1.1"/><circle cx="561" cy="941" r="0.8"/><circle cx="669" cy="1069" r="1.1"/><circle cx="641" cy="912" r="1.1"/><circle cx="780" cy="1025" r="1.3"/><circle cx="661" cy="996" r="3.8"/><circle cx="493" cy="747" r="2.3"/><circle cx="498" cy="857" r="2.1"/><circle cx="631" cy="1034" r="2.5"/><circle cx="771" cy="773" r="2.2"/><circle cx="523" cy="780" r="3.3"/><circle cx="775" cy="688" r="2.1"/><circle cx="768" cy="961" r="0.8"/><circle cx="478" cy="759" r="1.7"/><circle cx="469" cy="685" r="2.2"/><circle cx="460" cy="869" r="4.5"/><circle cx="612" cy="998" r="1.3"/><circle cx="701" cy="966" r="1.0"/><circle cx="762" cy="674" r="1.1"/><circle cx="766" cy="712" r="1.0"/><circle cx="706" cy="891" r="1.5"/><circle cx="488" cy="901" r="1.5"/><circle cx="448" cy="783" r="0.9"/><circle cx="477" cy="679" r="2.4"/><circle cx="649" cy="1045" r="1.1"/><circle cx="549" cy="1014" r="2.0"/><circle cx="752" cy="1061" r="1.0"/><circle cx="446" cy="890" r="1.2"/><circle cx="546" cy="650" r="1.5"/><circle cx="513" cy="872" r="1.2"/><circle cx="679" cy="698" r="1.5"/><circle cx="610" cy="687" r="1.0"/><circle cx="615" cy="930" r="2.8"/><circle cx="544" cy="738" r="1.8"/><circle cx="492" cy="730" r="1.3"/><circle cx="576" cy="999" r="1.1"/><circle cx="509" cy="824" r="1.5"/><circle cx="582" cy="756" r="0.9"/><circle cx="487" cy="897" r="0.9"/><circle cx="512" cy="725" r="2.1"/><circle cx="742" cy="705" r="0.9"/><circle cx="602" cy="1008" r="2.3"/><circle cx="420" cy="659" r="1.0"/><circle cx="416" cy="799" r="1.3"/><circle cx="492" cy="785" r="1.3"/><circle cx="456" cy="837" r="0.9"/><circle cx="782" cy="956" r="1.8"/><circle cx="776" cy="1065" r="1.6"/><circle cx="432" cy="883" r="1.3"/><circle cx="783" cy="1001" r="1.4"/><circle cx="641" cy="663" r="1.4"/><circle cx="708" cy="968" r="1.4"/><circle cx="761" cy="776" r="1.9"/><circle cx="595" cy="875" r="3.4"/><circle cx="560" cy="1016" r="0.9"/><circle cx="533" cy="667" r="0.7"/><circle cx="772" cy="1001" r="0.7"/><circle cx="511" cy="982" r="0.8"/><circle cx="572" cy="897" r="1.0"/><circle cx="620" cy="969" r="1.4"/><circle cx="509" cy="972" r="1.3"/><circle cx="616" cy="722" r="2.3"/><circle cx="462" cy="1029" r="2.8"/><circle cx="706" cy="959" r="1.8"/><circle cx="530" cy="1000" r="2.3"/><circle cx="439" cy="894" r="1.6"/><circle cx="422" cy="1034" r="2.1"/><circle cx="537" cy="837" r="1.5"/><circle cx="681" cy="953" r="1.4"/><circle cx="648" cy="1030" r="1.0"/><circle cx="522" cy="863" r="2.4"/><circle cx="751" cy="1016" r="3.3"/><circle cx="687" cy="686" r="1.0"/><circle cx="453" cy="1037" r="0.9"/><circle cx="444" cy="879" r="1.4"/><circle cx="649" cy="833" r="0.7"/><circle cx="669" cy="912" r="1.1"/><circle cx="566" cy="1039" r="0.9"/><circle cx="708" cy="784" r="1.0"/><circle cx="524" cy="976" r="1.1"/><circle cx="678" cy="796" r="1.8"/><circle cx="644" cy="691" r="1.1"/><circle cx="640" cy="848" r="1.1"/><circle cx="734" cy="765" r="1.1"/><circle cx="500" cy="691" r="1.1"/><circle cx="740" cy="981" r="2.3"/><circle cx="728" cy="763" r="1.4"/><circle cx="763" cy="924" r="1.7"/><circle cx="448" cy="790" r="1.1"/><circle cx="657" cy="920" r="2.4"/><circle cx="490" cy="690" r="1.3"/><circle cx="587" cy="993" r="0.9"/><circle cx="710" cy="774" r="2.0"/><circle cx="657" cy="660" r="1.4"/><circle cx="553" cy="768" r="5.0"/><circle cx="672" cy="856" r="1.8"/><circle cx="516" cy="773" r="1.2"/><circle cx="446" cy="698" r="1.4"/><circle cx="703" cy="937" r="1.6"/><circle cx="603" cy="655" r="0.7"/><circle cx="457" cy="699" r="1.0"/><circle cx="495" cy="681" r="1.4"/><circle cx="778" cy="1043" r="0.8"/><circle cx="739" cy="654" r="1.2"/><circle cx="771" cy="1048" r="1.7"/><circle cx="685" cy="1053" r="2.4"/><circle cx="696" cy="988" r="1.8"/><circle cx="626" cy="1050" r="1.4"/><circle cx="580" cy="1024" r="1.9"/><circle cx="760" cy="974" r="1.2"/><circle cx="736" cy="650" r="2.9"/><circle cx="728" cy="652" r="0.9"/><circle cx="495" cy="932" r="2.0"/><circle cx="751" cy="696" r="1.0"/><circle cx="707" cy="967" r="5.7"/><circle cx="610" cy="967" r="1.9"/><circle cx="665" cy="1017" r="1.6"/><circle cx="425" cy="953" r="1.6"/><circle cx="729" cy="975" r="0.8"/><circle cx="657" cy="917" r="1.3"/><circle cx="494" cy="1008" r="2.5"/><circle cx="673" cy="885" r="2.9"/><circle cx="566" cy="748" r="1.7"/><circle cx="751" cy="662" r="1.4"/><circle cx="682" cy="1058" r="1.1"/><circle cx="567" cy="675" r="1.9"/><circle cx="711" cy="662" r="0.9"/><circle cx="716" cy="657" r="1.0"/><circle cx="557" cy="1014" r="1.6"/><circle cx="689" cy="802" r="2.1"/><circle cx="440" cy="850" r="1.0"/><circle cx="619" cy="946" r="1.1"/><circle cx="720" cy="942" r="0.8"/><circle cx="514" cy="1059" r="1.3"/><circle cx="771" cy="950" r="1.2"/><circle cx="600" cy="1059" r="1.1"/><circle cx="667" cy="920" r="1.1"/><circle cx="572" cy="942" r="1.6"/><circle cx="551" cy="758" r="3.0"/><circle cx="580" cy="1065" r="2.3"/><circle cx="600" cy="702" r="0.8"/><circle cx="562" cy="842" r="1.4"/><circle cx="611" cy="719" r="1.2"/><circle cx="605" cy="824" r="1.0"/><circle cx="665" cy="904" r="1.0"/><circle cx="507" cy="899" r="1.2"/><circle cx="771" cy="968" r="1.9"/><circle cx="456" cy="963" r="1.0"/><circle cx="630" cy="762" r="1.9"/><circle cx="774" cy="657" r="0.9"/><circle cx="627" cy="928" r="2.3"/><circle cx="577" cy="807" r="2.0"/><circle cx="513" cy="1046" r="0.8"/><circle cx="613" cy="1041" r="2.2"/><circle cx="640" cy="868" r="0.8"/><circle cx="578" cy="1008" r="2.4"/><circle cx="710" cy="882" r="1.8"/><circle cx="750" cy="1008" r="1.3"/><circle cx="665" cy="803" r="1.8"/><circle cx="671" cy="866" r="2.3"/><circle cx="743" cy="855" r="1.2"/><circle cx="661" cy="688" r="0.9"/><circle cx="654" cy="719" r="0.9"/><circle cx="518" cy="892" r="2.0"/><circle cx="653" cy="977" r="1.0"/><circle cx="655" cy="737" r="2.3"/><circle cx="740" cy="675" r="2.7"/><circle cx="462" cy="914" r="0.8"/><circle cx="639" cy="879" r="1.1"/><circle cx="642" cy="984" r="2.1"/><circle cx="720" cy="851" r="1.5"/><circle cx="444" cy="843" r="1.6"/><circle cx="769" cy="772" r="1.0"/><circle cx="773" cy="714" r="1.1"/><circle cx="548" cy="796" r="1.3"/><circle cx="578" cy="898" r="1.4"/><circle cx="453" cy="949" r="1.1"/><circle cx="534" cy="1059" r="1.3"/><circle cx="425" cy="749" r="4.5"/><circle cx="428" cy="759" r="1.1"/><circle cx="555" cy="779" r="1.0"/><circle cx="482" cy="871" r="2.0"/><circle cx="688" cy="843" r="1.4"/><circle cx="458" cy="779" r="1.0"/><circle cx="492" cy="1020" r="1.1"/><circle cx="639" cy="704" r="0.8"/><circle cx="615" cy="963" r="2.3"/><circle cx="456" cy="846" r="1.8"/><circle cx="763" cy="861" r="1.5"/><circle cx="558" cy="949" r="1.9"/><circle cx="732" cy="976" r="1.2"/><circle cx="605" cy="696" r="2.2"/><circle cx="744" cy="749" r="1.4"/><circle cx="599" cy="778" r="1.0"/><circle cx="617" cy="835" r="2.1"/><circle cx="517" cy="733" r="0.9"/><circle cx="571" cy="865" r="2.4"/><circle cx="511" cy="775" r="0.7"/><circle cx="649" cy="663" r="2.0"/><circle cx="556" cy="1076" r="0.7"/><circle cx="454" cy="751" r="2.1"/><circle cx="545" cy="1029" r="0.9"/><circle cx="625" cy="878" r="1.7"/><circle cx="748" cy="921" r="2.0"/><circle cx="492" cy="891" r="2.4"/><circle cx="536" cy="780" r="1.2"/><circle cx="654" cy="705" r="2.3"/></g>
  <!-- back plate -->
  <rect x="571.75" y="756.1" width="66.5" height="198.7" rx="33" fill="#222" stroke="#3a3a3a" stroke-width="1.2"/>
  <rect x="592.75" y="766.6" width="25.35" height="41" rx="12" fill="url(#strip)"/>
  <circle cx="605" cy="781.5" r="7.5" fill="#dadada" stroke="#5a5a5a" stroke-width="1.2"/><circle cx="605" cy="781.5" r="3.8" fill="#8e8e8e"/>
  <rect x="592.75" y="900.5" width="25.35" height="46.4" rx="12" fill="url(#strip)"/>
  <circle cx="605" cy="930.3" r="7.5" fill="#dadada" stroke="#5a5a5a" stroke-width="1.2"/><circle cx="605" cy="930.3" r="3.8" fill="#8e8e8e"/>
  <!-- clamp body -->
  <rect x="507" y="803.4" width="196.9" height="109.35" fill="#2c2c2c"/>
  <rect x="507" y="805" width="30.6" height="106" fill="#252525"/>
  <rect x="537.6" y="811" width="34.15" height="101" fill="#3c3c3c"/>
  <rect x="571.75" y="811" width="25.25" height="101" fill="#333"/>
  <rect x="597" y="811" width="25.5" height="101" fill="#272727"/>
  <rect x="622.5" y="811" width="33.25" height="101" fill="#3c3c3c"/>
  <rect x="655.75" y="811" width="27.15" height="101" fill="#353535"/>
  <rect x="682.9" y="805" width="21" height="106" fill="#2a2a2a"/>
  <rect x="507" y="803.4" width="196.9" height="3" fill="#444"/>
  <g fill="#5a5a5a"><rect x="537.6" y="811" width="1" height="101"/><rect x="571.2" y="811" width="1" height="101"/><rect x="622.5" y="811" width="1" height="101"/><rect x="655.5" y="811" width="1" height="101"/><rect x="682.5" y="811" width="1" height="101"/></g>
  <path d="M559.5 913 L570 913 L570 928 Q564.7 934 559.5 928 Z" fill="url(#chrome)"/>
  <path d="M643.5 913 L654 913 L654 928 Q648.7 934 643.5 928 Z" fill="url(#chrome)"/>
  <g fill="#bdbdbd" opacity="0.55"><circle cx="668.5" cy="846.7" r="0.7"/><circle cx="609.0" cy="909.0" r="0.9"/><circle cx="589.2" cy="877.5" r="0.9"/><circle cx="638.3" cy="872.4" r="1.1"/><circle cx="666.0" cy="862.7" r="1.4"/><circle cx="561.0" cy="873.8" r="0.9"/><circle cx="588.5" cy="822.1" r="1.4"/><circle cx="655.5" cy="869.4" r="1.4"/><circle cx="585.5" cy="909.3" r="0.9"/><circle cx="589.4" cy="888.8" r="1.8"/><circle cx="625.4" cy="849.2" r="1.4"/><circle cx="641.6" cy="840.2" r="1.1"/><circle cx="565.7" cy="850.3" r="1.8"/><circle cx="623.1" cy="875.5" r="0.7"/><circle cx="659.5" cy="895.3" r="1.4"/><circle cx="582.3" cy="841.4" r="1.8"/><circle cx="567.8" cy="826.2" r="1.8"/><circle cx="581.6" cy="834.7" r="1.1"/><circle cx="571.5" cy="894.7" r="0.9"/><circle cx="692.2" cy="832.0" r="1.4"/><circle cx="679.3" cy="905.7" r="0.7"/><circle cx="519.0" cy="867.4" r="1.4"/><circle cx="567.0" cy="864.6" r="1.1"/><circle cx="612.3" cy="909.8" r="1.8"/><circle cx="666.9" cy="883.3" r="1.4"/><circle cx="584.0" cy="847.1" r="1.8"/><circle cx="638.5" cy="856.4" r="0.7"/><circle cx="638.5" cy="863.5" r="0.7"/><circle cx="587.8" cy="861.1" r="1.8"/><circle cx="686.4" cy="827.1" r="0.9"/><circle cx="693.2" cy="859.7" r="1.4"/><circle cx="655.8" cy="900.1" r="1.8"/><circle cx="575.2" cy="864.0" r="0.7"/><circle cx="542.4" cy="843.2" r="0.7"/><circle cx="666.9" cy="862.2" r="0.7"/><circle cx="634.6" cy="840.9" r="1.1"/><circle cx="665.9" cy="909.0" r="1.4"/><circle cx="629.9" cy="863.4" r="1.8"/><circle cx="549.5" cy="899.5" r="1.4"/><circle cx="544.7" cy="873.7" r="1.8"/><circle cx="530.3" cy="867.8" r="0.7"/><circle cx="641.4" cy="813.1" r="0.7"/><circle cx="568.3" cy="879.7" r="0.7"/><circle cx="684.2" cy="851.0" r="0.7"/><circle cx="621.4" cy="877.5" r="0.9"/><circle cx="543.3" cy="887.4" r="1.8"/><circle cx="560.5" cy="875.4" r="1.8"/><circle cx="607.7" cy="826.1" r="0.9"/><circle cx="588.1" cy="823.9" r="0.9"/><circle cx="608.5" cy="861.9" r="0.7"/><circle cx="529.0" cy="828.7" r="1.8"/><circle cx="603.2" cy="857.8" r="1.4"/><circle cx="663.3" cy="818.1" r="0.7"/><circle cx="640.1" cy="868.7" r="0.9"/><circle cx="645.9" cy="846.7" r="0.9"/><circle cx="516.2" cy="873.6" r="1.8"/><circle cx="522.0" cy="830.8" r="1.8"/><circle cx="583.3" cy="817.4" r="1.4"/><circle cx="620.7" cy="906.0" r="1.4"/><circle cx="520.4" cy="835.4" r="0.9"/><circle cx="518.4" cy="903.2" r="0.9"/><circle cx="569.8" cy="900.1" r="1.4"/><circle cx="567.7" cy="871.1" r="1.4"/><circle cx="696.1" cy="818.6" r="1.4"/><circle cx="638.2" cy="869.3" r="1.4"/><circle cx="568.7" cy="897.8" r="1.4"/><circle cx="514.3" cy="897.1" r="0.7"/><circle cx="543.0" cy="847.1" r="0.9"/><circle cx="511.5" cy="898.5" r="1.4"/><circle cx="616.7" cy="823.3" r="1.8"/></g>
</g>
<g id="p3" clip-path="url(#cp3)">
  <rect x="803" y="647" width="370" height="432" fill="url(#tileA)"/>
  <g fill="#f7f7f7">
    <rect x="808.5" y="647" width="3" height="432"/>
    <rect x="927.5" y="647" width="3" height="432"/>
    <rect x="1044" y="647" width="3" height="432"/>
    <rect x="1162" y="647" width="3" height="432"/>
    <rect x="803" y="723.3" width="370" height="3"/>
    <rect x="803" y="826.6" width="370" height="3"/>
    <rect x="803" y="930" width="370" height="3"/>
    <rect x="803" y="1033.3" width="370" height="3"/>
  </g>
  <g fill="#cdcdcd">
    <rect x="930.5" y="647" width="1" height="432"/>
    <rect x="1047" y="647" width="1" height="432"/>
    <rect x="1165" y="647" width="1" height="432"/>
    <rect x="803" y="722.3" width="370" height="1"/>
    <rect x="803" y="825.6" width="370" height="1"/>
    <rect x="803" y="929" width="370" height="1"/>
    <rect x="803" y="1032.3" width="370" height="1"/>
  </g>
  <!-- back plate -->
  <rect x="967" y="753.25" width="65.1" height="190.65" rx="32" fill="#161616"/>
  <rect x="986.25" y="763.3" width="25.65" height="37" rx="11" fill="url(#strip)"/>
  <circle cx="999.1" cy="776.2" r="7.5" fill="#dcdcdc" stroke="#555" stroke-width="1.2"/><circle cx="999.1" cy="776.2" r="3.8" fill="#8a8a8a"/>
  <rect x="986.25" y="891.7" width="25.65" height="44" rx="11" fill="url(#strip)"/>
  <circle cx="1000" cy="922" r="7.5" fill="#dcdcdc" stroke="#555" stroke-width="1.2"/><circle cx="1000" cy="922" r="3.8" fill="#8a8a8a"/>
  <!-- clamp body -->
  <rect x="900.1" y="798.2" width="198.9" height="105.4" fill="#1c1c1c"/>
  <rect x="929.4" y="804.6" width="35.8" height="98" fill="#2c2c2c"/>
  <rect x="965.2" y="804.6" width="25.6" height="98" fill="#252525"/>
  <rect x="990.8" y="804.6" width="25.7" height="88" fill="#141414"/>
  <rect x="1016.5" y="804.6" width="32.1" height="98" fill="#2e2e2e"/>
  <rect x="1048.6" y="804.6" width="26.6" height="98" fill="#292929"/>
  <rect x="900.1" y="798.2" width="198.9" height="3" fill="#3c3c3c"/>
  <g fill="#505050"><rect x="929.4" y="805" width="1" height="98"/><rect x="965" y="805" width="1" height="98"/><rect x="1016.5" y="805" width="1" height="98"/><rect x="1048.4" y="805" width="1" height="98"/><rect x="1075" y="805" width="1" height="98"/></g>
  <path d="M953.25 904 L963.3 904 L963.3 919 Q958.3 925 953.25 919 Z" fill="url(#chrome)"/>
  <path d="M1036.7 904 L1047.7 904 L1047.7 919 Q1042.2 925 1036.7 919 Z" fill="url(#chrome)"/>
  <!-- weight -->
  <rect x="1006.7" y="991" width="77.3" height="95" fill="url(#weight)"/>
  <ellipse cx="1045.4" cy="991" rx="38.6" ry="3.8" fill="#c4c4c5"/>
  <text x="1044.5" y="1046.7" font-size="21.5" text-anchor="middle" fill="#58585a" stroke="#58585a" stroke-width="0.3" letter-spacing="-0.6">5KG</text>
  <!-- S hook -->
  <g fill="none" stroke-linecap="round">
    <path d="M920.5 850 L921.5 826 Q924 786 959.7 784.4 Q994 784 997.25 827.5 L996.5 915 Q997 944 1020 948.7 Q1045 948 1053 930 Q1057 915 1058.5 896" stroke="#6c6c6c" stroke-width="5.4"/>
    <path d="M920.5 850 L921.5 826 Q924 786 959.7 784.4 Q994 784 997.25 827.5 L996.5 915 Q997 944 1020 948.7 Q1045 948 1053 930 Q1057 915 1058.5 896" stroke="#c4c4c4" stroke-width="3.2"/>
    <path d="M920.5 850 L921.5 826 Q924 786 959.7 784.4 Q994 784 997.25 827.5 L996.5 915 Q997 944 1020 948.7 Q1045 948 1053 930 Q1057 915 1058.5 896" stroke="#f6f6f6" stroke-width="1.2"/>
    <path d="M1025.3 961.3 Q1026 942 1046 940 Q1062 940 1064 958 Q1064 972 1055 980 Q1048 986 1047.3 992" stroke="#6c6c6c" stroke-width="5.2"/>
    <path d="M1025.3 961.3 Q1026 942 1046 940 Q1062 940 1064 958 Q1064 972 1055 980 Q1048 986 1047.3 992" stroke="#c4c4c4" stroke-width="3"/>
    <path d="M1025.3 961.3 Q1026 942 1046 940 Q1062 940 1064 958 Q1064 972 1055 980 Q1048 986 1047.3 992" stroke="#f6f6f6" stroke-width="1.1"/>
  </g>
  <rect x="915.7" y="831" width="10" height="21" rx="4" fill="url(#chrome)"/>
  <!-- weight hook -->
</g>

<!-- blue bars -->
<path d="M24 1077 H394 V1147 a8 8 0 0 1 -8 8 H32 a8 8 0 0 1 -8 -8 Z" fill="#769dc0"/>
<path d="M414 1077 H784 V1147 a8 8 0 0 1 -8 8 H422 a8 8 0 0 1 -8 -8 Z" fill="#769dc0"/>
<path d="M803 1077 H1173 V1147 a8 8 0 0 1 -8 8 H811 a8 8 0 0 1 -8 -8 Z" fill="#769dc0"/>
<!-- borders -->
<rect x="27" y="650" width="364" height="427" rx="6" fill="none" stroke="#d6e4f0" stroke-width="1" opacity="0.9"/>
<rect x="417" y="650" width="364" height="427" rx="6" fill="none" stroke="#d6e4f0" stroke-width="1" opacity="0.9"/>
<rect x="806" y="650" width="364" height="427" rx="6" fill="none" stroke="#d6e4f0" stroke-width="1" opacity="0.9"/>
<rect x="25.2" y="648.2" width="367.6" height="506" rx="7.5" fill="none" stroke="#6a8599" stroke-width="2.4"/>
<rect x="415.2" y="648.2" width="367.6" height="506" rx="7.5" fill="none" stroke="#6a8599" stroke-width="2.4"/>
<rect x="804.2" y="648.2" width="367.6" height="506" rx="7.5" fill="none" stroke="#6a8599" stroke-width="2.4"/>

<text x="210" y="1127" font-size="33.2" text-anchor="middle" fill="#fff">Fit for handle 18-35mm</text>
<text x="599.5" y="1112.5" font-size="33.2" text-anchor="middle" fill="#fff">Waterproof &amp; Moisture</text>
<text x="600" y="1140.5" font-size="33.2" text-anchor="middle" fill="#fff">-proof</text>
<text x="990" y="1126.5" font-size="33.2" text-anchor="middle" fill="#fff">Max. support 5kg</text>
</svg>
</body></html>
